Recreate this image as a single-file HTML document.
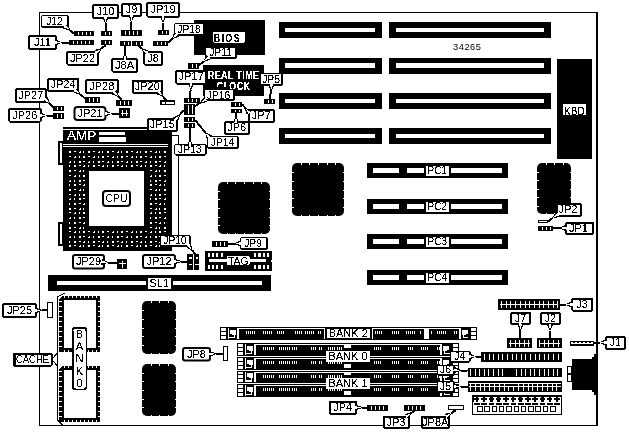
<!DOCTYPE html>
<html><head><meta charset="utf-8"><style>
html,body{margin:0;padding:0;background:#fff;}
svg{display:block;font-family:"Liberation Sans", sans-serif;will-change:transform;}
</style></head><body>
<svg width="629" height="433" viewBox="0 0 629 433" shape-rendering="crispEdges">
<defs><filter id="tx" x="-20%" y="-40%" width="140%" height="180%"><feComponentTransfer><feFuncA type="discrete" tableValues="0 0 0 0 0 0 0 0 0 1 1 1 1 1 1 1 1 1 1 1"/></feComponentTransfer></filter><filter id="tw" x="-20%" y="-40%" width="140%" height="180%"><feComponentTransfer><feFuncA type="discrete" tableValues="0 0 1 1 1"/></feComponentTransfer></filter></defs>
<g>
<rect x="0" y="0" width="629" height="433" fill="#fff"/>
<rect x="39" y="12" width="559" height="1" fill="#000"/>
<rect x="39" y="12" width="1" height="414" fill="#000"/>
<rect x="39" y="425" width="559" height="1" fill="#000"/>
<rect x="596" y="12" width="2" height="414" fill="#000"/>
<rect x="279" y="22" width="103" height="16" fill="#000"/>
<rect x="285" y="28" width="90" height="4" fill="#fff"/>
<rect x="389" y="22" width="162" height="16" fill="#000"/>
<rect x="396" y="28" width="148" height="4" fill="#fff"/>
<rect x="279" y="58" width="103" height="16" fill="#000"/>
<rect x="285" y="63" width="90" height="5" fill="#fff"/>
<rect x="389" y="58" width="162" height="16" fill="#000"/>
<rect x="396" y="63" width="148" height="5" fill="#fff"/>
<rect x="279" y="93" width="103" height="16" fill="#000"/>
<rect x="285" y="99" width="90" height="4" fill="#fff"/>
<rect x="389" y="93" width="162" height="16" fill="#000"/>
<rect x="396" y="99" width="148" height="4" fill="#fff"/>
<rect x="279" y="128" width="103" height="16" fill="#000"/>
<rect x="285" y="134" width="90" height="4" fill="#fff"/>
<rect x="389" y="128" width="162" height="16" fill="#000"/>
<rect x="396" y="134" width="148" height="4" fill="#fff"/>
<text x="467.3" y="49.8" font-size="9.3" fill="#000" text-anchor="middle" font-weight="normal"  letter-spacing="0.5">34265</text>
<rect x="557" y="59" width="35" height="100" fill="#000"/>
<rect x="563" y="104" width="23" height="11" fill="#fff"/>
<text x="574.5" y="114.6" font-size="11" fill="#000" text-anchor="middle" font-weight="normal" filter="url(#tx)" transform="translate(574.5 0) scale(0.92 1) translate(-574.5 0)">KBD</text>
<rect x="367" y="163" width="141" height="15" fill="#000"/>
<rect x="373" y="168" width="26" height="5" fill="#fff"/>
<rect x="407" y="168" width="17" height="5" fill="#fff"/>
<rect x="451" y="168" width="51" height="5" fill="#fff"/>
<rect x="425.5" y="165.5" width="23.5" height="10.5" rx="1" fill="#fff"/>
<text x="437.3" y="174" font-size="10" fill="#000" text-anchor="middle" font-weight="normal" filter="url(#tx)" >PC1</text>
<rect x="367" y="199" width="141" height="15" fill="#000"/>
<rect x="373" y="204" width="26" height="5" fill="#fff"/>
<rect x="407" y="204" width="17" height="5" fill="#fff"/>
<rect x="451" y="204" width="51" height="5" fill="#fff"/>
<rect x="425.5" y="201.5" width="23.5" height="10.5" rx="1" fill="#fff"/>
<text x="437.3" y="210" font-size="10" fill="#000" text-anchor="middle" font-weight="normal" filter="url(#tx)" >PC2</text>
<rect x="367" y="234" width="141" height="15" fill="#000"/>
<rect x="373" y="239" width="26" height="5" fill="#fff"/>
<rect x="407" y="239" width="17" height="5" fill="#fff"/>
<rect x="451" y="239" width="51" height="5" fill="#fff"/>
<rect x="425.5" y="236.5" width="23.5" height="10.5" rx="1" fill="#fff"/>
<text x="437.3" y="245" font-size="10" fill="#000" text-anchor="middle" font-weight="normal" filter="url(#tx)" >PC3</text>
<rect x="367" y="270" width="141" height="15" fill="#000"/>
<rect x="373" y="275" width="26" height="5" fill="#fff"/>
<rect x="407" y="275" width="17" height="5" fill="#fff"/>
<rect x="451" y="275" width="51" height="5" fill="#fff"/>
<rect x="425.5" y="272.5" width="23.5" height="10.5" rx="1" fill="#fff"/>
<text x="437.3" y="281" font-size="10" fill="#000" text-anchor="middle" font-weight="normal" filter="url(#tx)" >PC4</text>
<rect x="218" y="182" width="52" height="52" rx="5" fill="#000" shape-rendering="auto"/>
<rect x="226.667" y="182" width="1" height="1.5" fill="#fff"/>
<rect x="226.667" y="232.5" width="1" height="1.5" fill="#fff"/>
<rect x="235.333" y="182" width="1" height="1.5" fill="#fff"/>
<rect x="235.333" y="232.5" width="1" height="1.5" fill="#fff"/>
<rect x="244" y="182" width="1" height="1.5" fill="#fff"/>
<rect x="244" y="232.5" width="1" height="1.5" fill="#fff"/>
<rect x="252.667" y="182" width="1" height="1.5" fill="#fff"/>
<rect x="252.667" y="232.5" width="1" height="1.5" fill="#fff"/>
<rect x="261.333" y="182" width="1" height="1.5" fill="#fff"/>
<rect x="261.333" y="232.5" width="1" height="1.5" fill="#fff"/>
<rect x="218" y="190.667" width="1.5" height="1" fill="#fff"/>
<rect x="268.5" y="190.667" width="1.5" height="1" fill="#fff"/>
<rect x="218" y="199.333" width="1.5" height="1" fill="#fff"/>
<rect x="268.5" y="199.333" width="1.5" height="1" fill="#fff"/>
<rect x="218" y="208" width="1.5" height="1" fill="#fff"/>
<rect x="268.5" y="208" width="1.5" height="1" fill="#fff"/>
<rect x="218" y="216.667" width="1.5" height="1" fill="#fff"/>
<rect x="268.5" y="216.667" width="1.5" height="1" fill="#fff"/>
<rect x="218" y="225.333" width="1.5" height="1" fill="#fff"/>
<rect x="268.5" y="225.333" width="1.5" height="1" fill="#fff"/>
<rect x="292" y="163" width="52" height="53" rx="5" fill="#000" shape-rendering="auto"/>
<rect x="300.667" y="163" width="1" height="1.5" fill="#fff"/>
<rect x="300.667" y="214.5" width="1" height="1.5" fill="#fff"/>
<rect x="309.333" y="163" width="1" height="1.5" fill="#fff"/>
<rect x="309.333" y="214.5" width="1" height="1.5" fill="#fff"/>
<rect x="318" y="163" width="1" height="1.5" fill="#fff"/>
<rect x="318" y="214.5" width="1" height="1.5" fill="#fff"/>
<rect x="326.667" y="163" width="1" height="1.5" fill="#fff"/>
<rect x="326.667" y="214.5" width="1" height="1.5" fill="#fff"/>
<rect x="335.333" y="163" width="1" height="1.5" fill="#fff"/>
<rect x="335.333" y="214.5" width="1" height="1.5" fill="#fff"/>
<rect x="292" y="171.833" width="1.5" height="1" fill="#fff"/>
<rect x="342.5" y="171.833" width="1.5" height="1" fill="#fff"/>
<rect x="292" y="180.667" width="1.5" height="1" fill="#fff"/>
<rect x="342.5" y="180.667" width="1.5" height="1" fill="#fff"/>
<rect x="292" y="189.5" width="1.5" height="1" fill="#fff"/>
<rect x="342.5" y="189.5" width="1.5" height="1" fill="#fff"/>
<rect x="292" y="198.333" width="1.5" height="1" fill="#fff"/>
<rect x="342.5" y="198.333" width="1.5" height="1" fill="#fff"/>
<rect x="292" y="207.167" width="1.5" height="1" fill="#fff"/>
<rect x="342.5" y="207.167" width="1.5" height="1" fill="#fff"/>
<rect x="537" y="163" width="34" height="51" rx="5" fill="#000" shape-rendering="auto"/>
<rect x="545.5" y="163" width="1" height="1.5" fill="#fff"/>
<rect x="545.5" y="212.5" width="1" height="1.5" fill="#fff"/>
<rect x="554" y="163" width="1" height="1.5" fill="#fff"/>
<rect x="554" y="212.5" width="1" height="1.5" fill="#fff"/>
<rect x="562.5" y="163" width="1" height="1.5" fill="#fff"/>
<rect x="562.5" y="212.5" width="1" height="1.5" fill="#fff"/>
<rect x="537" y="171.5" width="1.5" height="1" fill="#fff"/>
<rect x="569.5" y="171.5" width="1.5" height="1" fill="#fff"/>
<rect x="537" y="180" width="1.5" height="1" fill="#fff"/>
<rect x="569.5" y="180" width="1.5" height="1" fill="#fff"/>
<rect x="537" y="188.5" width="1.5" height="1" fill="#fff"/>
<rect x="569.5" y="188.5" width="1.5" height="1" fill="#fff"/>
<rect x="537" y="197" width="1.5" height="1" fill="#fff"/>
<rect x="569.5" y="197" width="1.5" height="1" fill="#fff"/>
<rect x="537" y="205.5" width="1.5" height="1" fill="#fff"/>
<rect x="569.5" y="205.5" width="1.5" height="1" fill="#fff"/>
<rect x="142" y="301" width="34" height="53" rx="5" fill="#000" shape-rendering="auto"/>
<rect x="150.5" y="301" width="1" height="1.5" fill="#fff"/>
<rect x="150.5" y="352.5" width="1" height="1.5" fill="#fff"/>
<rect x="159" y="301" width="1" height="1.5" fill="#fff"/>
<rect x="159" y="352.5" width="1" height="1.5" fill="#fff"/>
<rect x="167.5" y="301" width="1" height="1.5" fill="#fff"/>
<rect x="167.5" y="352.5" width="1" height="1.5" fill="#fff"/>
<rect x="142" y="309.833" width="1.5" height="1" fill="#fff"/>
<rect x="174.5" y="309.833" width="1.5" height="1" fill="#fff"/>
<rect x="142" y="318.667" width="1.5" height="1" fill="#fff"/>
<rect x="174.5" y="318.667" width="1.5" height="1" fill="#fff"/>
<rect x="142" y="327.5" width="1.5" height="1" fill="#fff"/>
<rect x="174.5" y="327.5" width="1.5" height="1" fill="#fff"/>
<rect x="142" y="336.333" width="1.5" height="1" fill="#fff"/>
<rect x="174.5" y="336.333" width="1.5" height="1" fill="#fff"/>
<rect x="142" y="345.167" width="1.5" height="1" fill="#fff"/>
<rect x="174.5" y="345.167" width="1.5" height="1" fill="#fff"/>
<rect x="142" y="364" width="34" height="52" rx="5" fill="#000" shape-rendering="auto"/>
<rect x="150.5" y="364" width="1" height="1.5" fill="#fff"/>
<rect x="150.5" y="414.5" width="1" height="1.5" fill="#fff"/>
<rect x="159" y="364" width="1" height="1.5" fill="#fff"/>
<rect x="159" y="414.5" width="1" height="1.5" fill="#fff"/>
<rect x="167.5" y="364" width="1" height="1.5" fill="#fff"/>
<rect x="167.5" y="414.5" width="1" height="1.5" fill="#fff"/>
<rect x="142" y="372.667" width="1.5" height="1" fill="#fff"/>
<rect x="174.5" y="372.667" width="1.5" height="1" fill="#fff"/>
<rect x="142" y="381.333" width="1.5" height="1" fill="#fff"/>
<rect x="174.5" y="381.333" width="1.5" height="1" fill="#fff"/>
<rect x="142" y="390" width="1.5" height="1" fill="#fff"/>
<rect x="174.5" y="390" width="1.5" height="1" fill="#fff"/>
<rect x="142" y="398.667" width="1.5" height="1" fill="#fff"/>
<rect x="174.5" y="398.667" width="1.5" height="1" fill="#fff"/>
<rect x="142" y="407.333" width="1.5" height="1" fill="#fff"/>
<rect x="174.5" y="407.333" width="1.5" height="1" fill="#fff"/>
<rect x="194" y="20" width="71" height="35" fill="#000"/>
<rect x="213" y="31.5" width="32" height="11" rx="1" fill="#fff"/>
<text x="227.5" y="41.7" font-size="11" fill="#000" text-anchor="middle" font-weight="bold" filter="url(#tx)" letter-spacing="1.8" transform="translate(227.5 0) scale(0.8 1) translate(-227.5 0)">BIOS</text>
<rect x="203" y="65" width="61" height="31" fill="#000"/>
<text x="233.6" y="79" font-size="10.5" fill="#fff" text-anchor="middle" font-weight="bold" filter="url(#tw)" letter-spacing="0.4" transform="translate(233.6 0) scale(0.86 1) translate(-233.6 0)">REAL TIME</text>
<text x="233.5" y="90" font-size="10" fill="#fff" text-anchor="middle" font-weight="bold" filter="url(#tw)" letter-spacing="0.4" transform="translate(233.5 0) scale(0.9 1) translate(-233.5 0)">CLOCK</text>
<rect x="216" y="86.8" width="14" height="3.7" fill="#000"/>
<rect x="63" y="127" width="109" height="2" fill="#000"/>
<rect x="63" y="130" width="109" height="121" fill="#000"/>
<rect x="172" y="135" width="7" height="1" fill="#000"/>
<rect x="178" y="135" width="1" height="100" fill="#000"/>
<rect x="63" y="144" width="105" height="1" fill="#fff"/>
<rect x="63" y="146" width="105" height="1" fill="#fff"/>
<text x="67" y="140" font-size="13.5" fill="#fff" text-anchor="start" font-weight="normal" filter="url(#tw)" font-weight="normal">AMP</text>
<rect x="99" y="132" width="26" height="3" fill="#fff"/>
<rect x="99" y="136.5" width="27" height="5" fill="#fff"/>
<rect x="69" y="151" width="2" height="2" fill="#fff"/>
<rect x="74" y="151" width="2" height="1" fill="#fff"/>
<rect x="79" y="152" width="2" height="1" fill="#fff"/>
<rect x="80" y="151" width="1" height="1" fill="#fff"/>
<rect x="83" y="151" width="1" height="2" fill="#fff"/>
<rect x="88" y="151" width="2" height="2" fill="#fff"/>
<rect x="93" y="151" width="2" height="1" fill="#fff"/>
<rect x="98" y="152" width="2" height="1" fill="#fff"/>
<rect x="99" y="151" width="1" height="1" fill="#fff"/>
<rect x="102" y="151" width="1" height="2" fill="#fff"/>
<rect x="107" y="151" width="2" height="2" fill="#fff"/>
<rect x="112" y="151" width="2" height="1" fill="#fff"/>
<rect x="117" y="152" width="2" height="1" fill="#fff"/>
<rect x="118" y="151" width="1" height="1" fill="#fff"/>
<rect x="121" y="151" width="1" height="2" fill="#fff"/>
<rect x="126" y="151" width="2" height="2" fill="#fff"/>
<rect x="131" y="151" width="2" height="1" fill="#fff"/>
<rect x="136" y="152" width="2" height="1" fill="#fff"/>
<rect x="137" y="151" width="1" height="1" fill="#fff"/>
<rect x="140" y="151" width="1" height="2" fill="#fff"/>
<rect x="145" y="151" width="2" height="2" fill="#fff"/>
<rect x="150" y="151" width="2" height="1" fill="#fff"/>
<rect x="155" y="152" width="2" height="1" fill="#fff"/>
<rect x="156" y="151" width="1" height="1" fill="#fff"/>
<rect x="159" y="151" width="1" height="2" fill="#fff"/>
<rect x="164" y="151" width="2" height="2" fill="#fff"/>
<rect x="69" y="156" width="2" height="1" fill="#fff"/>
<rect x="74" y="157" width="2" height="1" fill="#fff"/>
<rect x="75" y="156" width="1" height="1" fill="#fff"/>
<rect x="79" y="156" width="1" height="2" fill="#fff"/>
<rect x="83" y="156" width="2" height="2" fill="#fff"/>
<rect x="88" y="156" width="2" height="1" fill="#fff"/>
<rect x="93" y="157" width="2" height="1" fill="#fff"/>
<rect x="94" y="156" width="1" height="1" fill="#fff"/>
<rect x="98" y="156" width="1" height="2" fill="#fff"/>
<rect x="102" y="156" width="2" height="2" fill="#fff"/>
<rect x="107" y="156" width="2" height="1" fill="#fff"/>
<rect x="112" y="157" width="2" height="1" fill="#fff"/>
<rect x="113" y="156" width="1" height="1" fill="#fff"/>
<rect x="117" y="156" width="1" height="2" fill="#fff"/>
<rect x="121" y="156" width="2" height="2" fill="#fff"/>
<rect x="126" y="156" width="2" height="1" fill="#fff"/>
<rect x="131" y="157" width="2" height="1" fill="#fff"/>
<rect x="132" y="156" width="1" height="1" fill="#fff"/>
<rect x="136" y="156" width="1" height="2" fill="#fff"/>
<rect x="140" y="156" width="2" height="2" fill="#fff"/>
<rect x="145" y="156" width="2" height="1" fill="#fff"/>
<rect x="150" y="157" width="2" height="1" fill="#fff"/>
<rect x="151" y="156" width="1" height="1" fill="#fff"/>
<rect x="155" y="156" width="1" height="2" fill="#fff"/>
<rect x="159" y="156" width="2" height="2" fill="#fff"/>
<rect x="164" y="156" width="2" height="1" fill="#fff"/>
<rect x="69" y="162" width="2" height="1" fill="#fff"/>
<rect x="70" y="161" width="1" height="1" fill="#fff"/>
<rect x="74" y="161" width="1" height="2" fill="#fff"/>
<rect x="79" y="161" width="2" height="2" fill="#fff"/>
<rect x="83" y="161" width="2" height="1" fill="#fff"/>
<rect x="88" y="162" width="2" height="1" fill="#fff"/>
<rect x="89" y="161" width="1" height="1" fill="#fff"/>
<rect x="93" y="161" width="1" height="2" fill="#fff"/>
<rect x="98" y="161" width="2" height="2" fill="#fff"/>
<rect x="102" y="161" width="2" height="1" fill="#fff"/>
<rect x="107" y="162" width="2" height="1" fill="#fff"/>
<rect x="108" y="161" width="1" height="1" fill="#fff"/>
<rect x="112" y="161" width="1" height="2" fill="#fff"/>
<rect x="117" y="161" width="2" height="2" fill="#fff"/>
<rect x="121" y="161" width="2" height="1" fill="#fff"/>
<rect x="126" y="162" width="2" height="1" fill="#fff"/>
<rect x="127" y="161" width="1" height="1" fill="#fff"/>
<rect x="131" y="161" width="1" height="2" fill="#fff"/>
<rect x="136" y="161" width="2" height="2" fill="#fff"/>
<rect x="140" y="161" width="2" height="1" fill="#fff"/>
<rect x="145" y="162" width="2" height="1" fill="#fff"/>
<rect x="146" y="161" width="1" height="1" fill="#fff"/>
<rect x="150" y="161" width="1" height="2" fill="#fff"/>
<rect x="155" y="161" width="2" height="2" fill="#fff"/>
<rect x="159" y="161" width="2" height="1" fill="#fff"/>
<rect x="164" y="162" width="2" height="1" fill="#fff"/>
<rect x="165" y="161" width="1" height="1" fill="#fff"/>
<rect x="69" y="165" width="1" height="2" fill="#fff"/>
<rect x="74" y="165" width="2" height="2" fill="#fff"/>
<rect x="79" y="165" width="2" height="1" fill="#fff"/>
<rect x="83" y="166" width="2" height="1" fill="#fff"/>
<rect x="84" y="165" width="1" height="1" fill="#fff"/>
<rect x="88" y="165" width="1" height="2" fill="#fff"/>
<rect x="93" y="165" width="2" height="2" fill="#fff"/>
<rect x="98" y="165" width="2" height="1" fill="#fff"/>
<rect x="102" y="166" width="2" height="1" fill="#fff"/>
<rect x="103" y="165" width="1" height="1" fill="#fff"/>
<rect x="107" y="165" width="1" height="2" fill="#fff"/>
<rect x="112" y="165" width="2" height="2" fill="#fff"/>
<rect x="117" y="165" width="2" height="1" fill="#fff"/>
<rect x="121" y="166" width="2" height="1" fill="#fff"/>
<rect x="122" y="165" width="1" height="1" fill="#fff"/>
<rect x="126" y="165" width="1" height="2" fill="#fff"/>
<rect x="131" y="165" width="2" height="2" fill="#fff"/>
<rect x="136" y="165" width="2" height="1" fill="#fff"/>
<rect x="140" y="166" width="2" height="1" fill="#fff"/>
<rect x="141" y="165" width="1" height="1" fill="#fff"/>
<rect x="145" y="165" width="1" height="2" fill="#fff"/>
<rect x="150" y="165" width="2" height="2" fill="#fff"/>
<rect x="155" y="165" width="2" height="1" fill="#fff"/>
<rect x="159" y="166" width="2" height="1" fill="#fff"/>
<rect x="160" y="165" width="1" height="1" fill="#fff"/>
<rect x="164" y="165" width="1" height="2" fill="#fff"/>
<rect x="69" y="170" width="2" height="2" fill="#fff"/>
<rect x="74" y="170" width="2" height="1" fill="#fff"/>
<rect x="79" y="171" width="2" height="1" fill="#fff"/>
<rect x="80" y="170" width="1" height="1" fill="#fff"/>
<rect x="83" y="170" width="1" height="2" fill="#fff"/>
<rect x="150" y="170" width="2" height="1" fill="#fff"/>
<rect x="155" y="171" width="2" height="1" fill="#fff"/>
<rect x="156" y="170" width="1" height="1" fill="#fff"/>
<rect x="159" y="170" width="1" height="2" fill="#fff"/>
<rect x="164" y="170" width="2" height="2" fill="#fff"/>
<rect x="69" y="175" width="2" height="1" fill="#fff"/>
<rect x="74" y="176" width="2" height="1" fill="#fff"/>
<rect x="75" y="175" width="1" height="1" fill="#fff"/>
<rect x="79" y="175" width="1" height="2" fill="#fff"/>
<rect x="83" y="175" width="2" height="2" fill="#fff"/>
<rect x="150" y="176" width="2" height="1" fill="#fff"/>
<rect x="151" y="175" width="1" height="1" fill="#fff"/>
<rect x="155" y="175" width="1" height="2" fill="#fff"/>
<rect x="159" y="175" width="2" height="2" fill="#fff"/>
<rect x="164" y="175" width="2" height="1" fill="#fff"/>
<rect x="69" y="181" width="2" height="1" fill="#fff"/>
<rect x="70" y="180" width="1" height="1" fill="#fff"/>
<rect x="74" y="180" width="1" height="2" fill="#fff"/>
<rect x="79" y="180" width="2" height="2" fill="#fff"/>
<rect x="83" y="180" width="2" height="1" fill="#fff"/>
<rect x="150" y="180" width="1" height="2" fill="#fff"/>
<rect x="155" y="180" width="2" height="2" fill="#fff"/>
<rect x="159" y="180" width="2" height="1" fill="#fff"/>
<rect x="164" y="181" width="2" height="1" fill="#fff"/>
<rect x="165" y="180" width="1" height="1" fill="#fff"/>
<rect x="69" y="184" width="1" height="2" fill="#fff"/>
<rect x="74" y="184" width="2" height="2" fill="#fff"/>
<rect x="79" y="184" width="2" height="1" fill="#fff"/>
<rect x="83" y="185" width="2" height="1" fill="#fff"/>
<rect x="84" y="184" width="1" height="1" fill="#fff"/>
<rect x="150" y="184" width="2" height="2" fill="#fff"/>
<rect x="155" y="184" width="2" height="1" fill="#fff"/>
<rect x="159" y="185" width="2" height="1" fill="#fff"/>
<rect x="160" y="184" width="1" height="1" fill="#fff"/>
<rect x="164" y="184" width="1" height="2" fill="#fff"/>
<rect x="69" y="189" width="2" height="2" fill="#fff"/>
<rect x="74" y="189" width="2" height="1" fill="#fff"/>
<rect x="79" y="190" width="2" height="1" fill="#fff"/>
<rect x="80" y="189" width="1" height="1" fill="#fff"/>
<rect x="83" y="189" width="1" height="2" fill="#fff"/>
<rect x="150" y="189" width="2" height="1" fill="#fff"/>
<rect x="155" y="190" width="2" height="1" fill="#fff"/>
<rect x="156" y="189" width="1" height="1" fill="#fff"/>
<rect x="159" y="189" width="1" height="2" fill="#fff"/>
<rect x="164" y="189" width="2" height="2" fill="#fff"/>
<rect x="69" y="194" width="2" height="1" fill="#fff"/>
<rect x="74" y="195" width="2" height="1" fill="#fff"/>
<rect x="75" y="194" width="1" height="1" fill="#fff"/>
<rect x="79" y="194" width="1" height="2" fill="#fff"/>
<rect x="83" y="194" width="2" height="2" fill="#fff"/>
<rect x="150" y="195" width="2" height="1" fill="#fff"/>
<rect x="151" y="194" width="1" height="1" fill="#fff"/>
<rect x="155" y="194" width="1" height="2" fill="#fff"/>
<rect x="159" y="194" width="2" height="2" fill="#fff"/>
<rect x="164" y="194" width="2" height="1" fill="#fff"/>
<rect x="69" y="199" width="2" height="1" fill="#fff"/>
<rect x="70" y="198" width="1" height="1" fill="#fff"/>
<rect x="74" y="198" width="1" height="2" fill="#fff"/>
<rect x="79" y="198" width="2" height="2" fill="#fff"/>
<rect x="83" y="198" width="2" height="1" fill="#fff"/>
<rect x="150" y="198" width="1" height="2" fill="#fff"/>
<rect x="155" y="198" width="2" height="2" fill="#fff"/>
<rect x="159" y="198" width="2" height="1" fill="#fff"/>
<rect x="164" y="199" width="2" height="1" fill="#fff"/>
<rect x="165" y="198" width="1" height="1" fill="#fff"/>
<rect x="69" y="203" width="1" height="2" fill="#fff"/>
<rect x="74" y="203" width="2" height="2" fill="#fff"/>
<rect x="79" y="203" width="2" height="1" fill="#fff"/>
<rect x="83" y="204" width="2" height="1" fill="#fff"/>
<rect x="84" y="203" width="1" height="1" fill="#fff"/>
<rect x="150" y="203" width="2" height="2" fill="#fff"/>
<rect x="155" y="203" width="2" height="1" fill="#fff"/>
<rect x="159" y="204" width="2" height="1" fill="#fff"/>
<rect x="160" y="203" width="1" height="1" fill="#fff"/>
<rect x="164" y="203" width="1" height="2" fill="#fff"/>
<rect x="69" y="208" width="2" height="2" fill="#fff"/>
<rect x="74" y="208" width="2" height="1" fill="#fff"/>
<rect x="79" y="209" width="2" height="1" fill="#fff"/>
<rect x="80" y="208" width="1" height="1" fill="#fff"/>
<rect x="83" y="208" width="1" height="2" fill="#fff"/>
<rect x="150" y="208" width="2" height="1" fill="#fff"/>
<rect x="155" y="209" width="2" height="1" fill="#fff"/>
<rect x="156" y="208" width="1" height="1" fill="#fff"/>
<rect x="159" y="208" width="1" height="2" fill="#fff"/>
<rect x="164" y="208" width="2" height="2" fill="#fff"/>
<rect x="69" y="212" width="2" height="1" fill="#fff"/>
<rect x="74" y="213" width="2" height="1" fill="#fff"/>
<rect x="75" y="212" width="1" height="1" fill="#fff"/>
<rect x="79" y="212" width="1" height="2" fill="#fff"/>
<rect x="83" y="212" width="2" height="2" fill="#fff"/>
<rect x="150" y="213" width="2" height="1" fill="#fff"/>
<rect x="151" y="212" width="1" height="1" fill="#fff"/>
<rect x="155" y="212" width="1" height="2" fill="#fff"/>
<rect x="159" y="212" width="2" height="2" fill="#fff"/>
<rect x="164" y="212" width="2" height="1" fill="#fff"/>
<rect x="69" y="218" width="2" height="1" fill="#fff"/>
<rect x="70" y="217" width="1" height="1" fill="#fff"/>
<rect x="74" y="217" width="1" height="2" fill="#fff"/>
<rect x="79" y="217" width="2" height="2" fill="#fff"/>
<rect x="83" y="217" width="2" height="1" fill="#fff"/>
<rect x="150" y="217" width="1" height="2" fill="#fff"/>
<rect x="155" y="217" width="2" height="2" fill="#fff"/>
<rect x="159" y="217" width="2" height="1" fill="#fff"/>
<rect x="164" y="218" width="2" height="1" fill="#fff"/>
<rect x="165" y="217" width="1" height="1" fill="#fff"/>
<rect x="69" y="222" width="1" height="2" fill="#fff"/>
<rect x="74" y="222" width="2" height="2" fill="#fff"/>
<rect x="79" y="222" width="2" height="1" fill="#fff"/>
<rect x="83" y="223" width="2" height="1" fill="#fff"/>
<rect x="84" y="222" width="1" height="1" fill="#fff"/>
<rect x="150" y="222" width="2" height="2" fill="#fff"/>
<rect x="155" y="222" width="2" height="1" fill="#fff"/>
<rect x="159" y="223" width="2" height="1" fill="#fff"/>
<rect x="160" y="222" width="1" height="1" fill="#fff"/>
<rect x="164" y="222" width="1" height="2" fill="#fff"/>
<rect x="69" y="227" width="2" height="2" fill="#fff"/>
<rect x="74" y="227" width="2" height="1" fill="#fff"/>
<rect x="79" y="228" width="2" height="1" fill="#fff"/>
<rect x="80" y="227" width="1" height="1" fill="#fff"/>
<rect x="83" y="227" width="1" height="2" fill="#fff"/>
<rect x="150" y="227" width="2" height="1" fill="#fff"/>
<rect x="155" y="228" width="2" height="1" fill="#fff"/>
<rect x="156" y="227" width="1" height="1" fill="#fff"/>
<rect x="159" y="227" width="1" height="2" fill="#fff"/>
<rect x="164" y="227" width="2" height="2" fill="#fff"/>
<rect x="69" y="231" width="2" height="1" fill="#fff"/>
<rect x="74" y="232" width="2" height="1" fill="#fff"/>
<rect x="75" y="231" width="1" height="1" fill="#fff"/>
<rect x="79" y="231" width="1" height="2" fill="#fff"/>
<rect x="83" y="231" width="2" height="2" fill="#fff"/>
<rect x="88" y="231" width="2" height="1" fill="#fff"/>
<rect x="93" y="232" width="2" height="1" fill="#fff"/>
<rect x="94" y="231" width="1" height="1" fill="#fff"/>
<rect x="98" y="231" width="1" height="2" fill="#fff"/>
<rect x="102" y="231" width="2" height="2" fill="#fff"/>
<rect x="107" y="231" width="2" height="1" fill="#fff"/>
<rect x="112" y="232" width="2" height="1" fill="#fff"/>
<rect x="113" y="231" width="1" height="1" fill="#fff"/>
<rect x="117" y="231" width="1" height="2" fill="#fff"/>
<rect x="121" y="231" width="2" height="2" fill="#fff"/>
<rect x="126" y="231" width="2" height="1" fill="#fff"/>
<rect x="131" y="232" width="2" height="1" fill="#fff"/>
<rect x="132" y="231" width="1" height="1" fill="#fff"/>
<rect x="136" y="231" width="1" height="2" fill="#fff"/>
<rect x="140" y="231" width="2" height="2" fill="#fff"/>
<rect x="145" y="231" width="2" height="1" fill="#fff"/>
<rect x="150" y="232" width="2" height="1" fill="#fff"/>
<rect x="151" y="231" width="1" height="1" fill="#fff"/>
<rect x="155" y="231" width="1" height="2" fill="#fff"/>
<rect x="159" y="231" width="2" height="2" fill="#fff"/>
<rect x="164" y="231" width="2" height="1" fill="#fff"/>
<rect x="69" y="237" width="2" height="1" fill="#fff"/>
<rect x="70" y="236" width="1" height="1" fill="#fff"/>
<rect x="74" y="236" width="1" height="2" fill="#fff"/>
<rect x="79" y="236" width="2" height="2" fill="#fff"/>
<rect x="83" y="236" width="2" height="1" fill="#fff"/>
<rect x="88" y="237" width="2" height="1" fill="#fff"/>
<rect x="89" y="236" width="1" height="1" fill="#fff"/>
<rect x="93" y="236" width="1" height="2" fill="#fff"/>
<rect x="98" y="236" width="2" height="2" fill="#fff"/>
<rect x="102" y="236" width="2" height="1" fill="#fff"/>
<rect x="107" y="237" width="2" height="1" fill="#fff"/>
<rect x="108" y="236" width="1" height="1" fill="#fff"/>
<rect x="112" y="236" width="1" height="2" fill="#fff"/>
<rect x="117" y="236" width="2" height="2" fill="#fff"/>
<rect x="121" y="236" width="2" height="1" fill="#fff"/>
<rect x="126" y="237" width="2" height="1" fill="#fff"/>
<rect x="127" y="236" width="1" height="1" fill="#fff"/>
<rect x="131" y="236" width="1" height="2" fill="#fff"/>
<rect x="136" y="236" width="2" height="2" fill="#fff"/>
<rect x="140" y="236" width="2" height="1" fill="#fff"/>
<rect x="145" y="237" width="2" height="1" fill="#fff"/>
<rect x="146" y="236" width="1" height="1" fill="#fff"/>
<rect x="150" y="236" width="1" height="2" fill="#fff"/>
<rect x="155" y="236" width="2" height="2" fill="#fff"/>
<rect x="159" y="236" width="2" height="1" fill="#fff"/>
<rect x="164" y="237" width="2" height="1" fill="#fff"/>
<rect x="165" y="236" width="1" height="1" fill="#fff"/>
<rect x="69" y="241" width="1" height="2" fill="#fff"/>
<rect x="74" y="241" width="2" height="2" fill="#fff"/>
<rect x="79" y="241" width="2" height="1" fill="#fff"/>
<rect x="83" y="242" width="2" height="1" fill="#fff"/>
<rect x="84" y="241" width="1" height="1" fill="#fff"/>
<rect x="88" y="241" width="1" height="2" fill="#fff"/>
<rect x="93" y="241" width="2" height="2" fill="#fff"/>
<rect x="98" y="241" width="2" height="1" fill="#fff"/>
<rect x="102" y="242" width="2" height="1" fill="#fff"/>
<rect x="103" y="241" width="1" height="1" fill="#fff"/>
<rect x="107" y="241" width="1" height="2" fill="#fff"/>
<rect x="112" y="241" width="2" height="2" fill="#fff"/>
<rect x="117" y="241" width="2" height="1" fill="#fff"/>
<rect x="121" y="242" width="2" height="1" fill="#fff"/>
<rect x="122" y="241" width="1" height="1" fill="#fff"/>
<rect x="126" y="241" width="1" height="2" fill="#fff"/>
<rect x="131" y="241" width="2" height="2" fill="#fff"/>
<rect x="136" y="241" width="2" height="1" fill="#fff"/>
<rect x="140" y="242" width="2" height="1" fill="#fff"/>
<rect x="141" y="241" width="1" height="1" fill="#fff"/>
<rect x="145" y="241" width="1" height="2" fill="#fff"/>
<rect x="150" y="241" width="2" height="2" fill="#fff"/>
<rect x="155" y="241" width="2" height="1" fill="#fff"/>
<rect x="159" y="242" width="2" height="1" fill="#fff"/>
<rect x="160" y="241" width="1" height="1" fill="#fff"/>
<rect x="164" y="241" width="1" height="2" fill="#fff"/>
<rect x="69" y="245" width="2" height="2" fill="#fff"/>
<rect x="74" y="245" width="2" height="1" fill="#fff"/>
<rect x="79" y="246" width="2" height="1" fill="#fff"/>
<rect x="80" y="245" width="1" height="1" fill="#fff"/>
<rect x="83" y="245" width="1" height="2" fill="#fff"/>
<rect x="88" y="245" width="2" height="2" fill="#fff"/>
<rect x="93" y="245" width="2" height="1" fill="#fff"/>
<rect x="98" y="246" width="2" height="1" fill="#fff"/>
<rect x="99" y="245" width="1" height="1" fill="#fff"/>
<rect x="102" y="245" width="1" height="2" fill="#fff"/>
<rect x="107" y="245" width="2" height="2" fill="#fff"/>
<rect x="112" y="245" width="2" height="1" fill="#fff"/>
<rect x="117" y="246" width="2" height="1" fill="#fff"/>
<rect x="118" y="245" width="1" height="1" fill="#fff"/>
<rect x="121" y="245" width="1" height="2" fill="#fff"/>
<rect x="126" y="245" width="2" height="2" fill="#fff"/>
<rect x="131" y="245" width="2" height="1" fill="#fff"/>
<rect x="136" y="246" width="2" height="1" fill="#fff"/>
<rect x="137" y="245" width="1" height="1" fill="#fff"/>
<rect x="140" y="245" width="1" height="2" fill="#fff"/>
<rect x="145" y="245" width="2" height="2" fill="#fff"/>
<rect x="150" y="245" width="2" height="1" fill="#fff"/>
<rect x="155" y="246" width="2" height="1" fill="#fff"/>
<rect x="156" y="245" width="1" height="1" fill="#fff"/>
<rect x="159" y="245" width="1" height="2" fill="#fff"/>
<rect x="164" y="245" width="2" height="2" fill="#fff"/>
<rect x="89" y="171" width="55" height="55" fill="#fff"/>
<rect x="58" y="141" width="5" height="24" rx="1.5" fill="#000"/>
<rect x="60" y="143" width="1.5" height="20" fill="#fff"/>
<rect x="58" y="222" width="5" height="24" rx="1.5" fill="#000"/>
<rect x="59.5" y="224" width="2" height="20" fill="#fff"/>
<rect x="102" y="190" width="29" height="17" rx="4" fill="#000" shape-rendering="auto"/>
<rect x="104" y="192" width="25" height="13" rx="2" fill="#fff" shape-rendering="auto"/>
<text x="116.5" y="201.623" font-size="10.5" fill="#000" text-anchor="middle" font-weight="normal" filter="url(#tx)" >CPU</text>
<rect x="48" y="275" width="223" height="16" fill="#000"/>
<rect x="57" y="281" width="89" height="4" fill="#fff"/>
<rect x="173" y="281" width="89" height="4" fill="#fff"/>
<rect x="147.5" y="277.5" width="23.5" height="11.2" rx="1" fill="#fff"/>
<text x="159.3" y="287" font-size="11" fill="#000" text-anchor="middle" font-weight="normal" filter="url(#tx)" >SL1</text>
<rect x="205" y="251" width="66.5" height="20" fill="#000"/>
<rect x="207.5" y="253.2" width="2.4" height="4" fill="#fff"/>
<rect x="207.5" y="265" width="2.4" height="4" fill="#fff"/>
<rect x="211.5" y="253.2" width="2.4" height="4" fill="#fff"/>
<rect x="211.5" y="265" width="2.4" height="4" fill="#fff"/>
<rect x="216" y="253.2" width="2.4" height="4" fill="#fff"/>
<rect x="216" y="265" width="2.4" height="4" fill="#fff"/>
<rect x="220.5" y="253.2" width="2.4" height="4" fill="#fff"/>
<rect x="220.5" y="265" width="2.4" height="4" fill="#fff"/>
<rect x="254" y="253.2" width="2.4" height="4" fill="#fff"/>
<rect x="254" y="265" width="2.4" height="4" fill="#fff"/>
<rect x="258.3" y="253.2" width="2.4" height="4" fill="#fff"/>
<rect x="258.3" y="265" width="2.4" height="4" fill="#fff"/>
<rect x="262.5" y="253.2" width="2.4" height="4" fill="#fff"/>
<rect x="262.5" y="265" width="2.4" height="4" fill="#fff"/>
<rect x="267" y="253.2" width="2.4" height="4" fill="#fff"/>
<rect x="267" y="265" width="2.4" height="4" fill="#fff"/>
<rect x="209" y="259" width="57" height="3" fill="#fff"/>
<rect x="270.5" y="259.5" width="1" height="2.5" fill="#fff"/>
<rect x="227" y="255.8" width="22.5" height="9.5" rx="1.5" fill="#fff"/>
<text x="238.3" y="264.8" font-size="11" fill="#000" text-anchor="middle" font-weight="normal" filter="url(#tx)" transform="translate(238.3 0) scale(0.95 1) translate(-238.3 0)">TAG</text>
<rect x="59" y="296" width="41" height="56" fill="#000"/>
<rect x="64" y="299.5" width="31.5" height="48.5" fill="#fff"/>
<rect x="59" y="301" width="3" height="1" fill="#fff"/>
<rect x="98" y="301" width="2" height="1" fill="#fff"/>
<rect x="59" y="306" width="3" height="1" fill="#fff"/>
<rect x="98" y="306" width="2" height="1" fill="#fff"/>
<rect x="59" y="311" width="3" height="1" fill="#fff"/>
<rect x="98" y="311" width="2" height="1" fill="#fff"/>
<rect x="59" y="316" width="3" height="1" fill="#fff"/>
<rect x="98" y="316" width="2" height="1" fill="#fff"/>
<rect x="59" y="321" width="3" height="1" fill="#fff"/>
<rect x="98" y="321" width="2" height="1" fill="#fff"/>
<rect x="59" y="326" width="3" height="1" fill="#fff"/>
<rect x="98" y="326" width="2" height="1" fill="#fff"/>
<rect x="59" y="331" width="3" height="1" fill="#fff"/>
<rect x="98" y="331" width="2" height="1" fill="#fff"/>
<rect x="59" y="336" width="3" height="1" fill="#fff"/>
<rect x="98" y="336" width="2" height="1" fill="#fff"/>
<rect x="59" y="341" width="3" height="1" fill="#fff"/>
<rect x="98" y="341" width="2" height="1" fill="#fff"/>
<rect x="59" y="346" width="3" height="1" fill="#fff"/>
<rect x="98" y="346" width="2" height="1" fill="#fff"/>
<rect x="64" y="296" width="1" height="1.5" fill="#fff"/>
<rect x="64" y="350" width="1" height="2" fill="#fff"/>
<rect x="68" y="296" width="1" height="1.5" fill="#fff"/>
<rect x="68" y="350" width="1" height="2" fill="#fff"/>
<rect x="72" y="296" width="1" height="1.5" fill="#fff"/>
<rect x="72" y="350" width="1" height="2" fill="#fff"/>
<rect x="76" y="296" width="1" height="1.5" fill="#fff"/>
<rect x="76" y="350" width="1" height="2" fill="#fff"/>
<rect x="80" y="296" width="1" height="1.5" fill="#fff"/>
<rect x="80" y="350" width="1" height="2" fill="#fff"/>
<rect x="84" y="296" width="1" height="1.5" fill="#fff"/>
<rect x="84" y="350" width="1" height="2" fill="#fff"/>
<rect x="88" y="296" width="1" height="1.5" fill="#fff"/>
<rect x="88" y="350" width="1" height="2" fill="#fff"/>
<rect x="92" y="296" width="1" height="1.5" fill="#fff"/>
<rect x="92" y="350" width="1" height="2" fill="#fff"/>
<rect x="96" y="296" width="1" height="1.5" fill="#fff"/>
<rect x="96" y="350" width="1" height="2" fill="#fff"/>
<polygon points="58.5,295.5 63,295.5 58.5,300" fill="#fff"/>
<rect x="59" y="366" width="41" height="56" fill="#000"/>
<rect x="64" y="369.5" width="31.5" height="48.5" fill="#fff"/>
<rect x="59" y="371" width="3" height="1" fill="#fff"/>
<rect x="98" y="371" width="2" height="1" fill="#fff"/>
<rect x="59" y="376" width="3" height="1" fill="#fff"/>
<rect x="98" y="376" width="2" height="1" fill="#fff"/>
<rect x="59" y="381" width="3" height="1" fill="#fff"/>
<rect x="98" y="381" width="2" height="1" fill="#fff"/>
<rect x="59" y="386" width="3" height="1" fill="#fff"/>
<rect x="98" y="386" width="2" height="1" fill="#fff"/>
<rect x="59" y="391" width="3" height="1" fill="#fff"/>
<rect x="98" y="391" width="2" height="1" fill="#fff"/>
<rect x="59" y="396" width="3" height="1" fill="#fff"/>
<rect x="98" y="396" width="2" height="1" fill="#fff"/>
<rect x="59" y="401" width="3" height="1" fill="#fff"/>
<rect x="98" y="401" width="2" height="1" fill="#fff"/>
<rect x="59" y="406" width="3" height="1" fill="#fff"/>
<rect x="98" y="406" width="2" height="1" fill="#fff"/>
<rect x="59" y="411" width="3" height="1" fill="#fff"/>
<rect x="98" y="411" width="2" height="1" fill="#fff"/>
<rect x="59" y="416" width="3" height="1" fill="#fff"/>
<rect x="98" y="416" width="2" height="1" fill="#fff"/>
<rect x="64" y="366" width="1" height="1.5" fill="#fff"/>
<rect x="64" y="420" width="1" height="2" fill="#fff"/>
<rect x="68" y="366" width="1" height="1.5" fill="#fff"/>
<rect x="68" y="420" width="1" height="2" fill="#fff"/>
<rect x="72" y="366" width="1" height="1.5" fill="#fff"/>
<rect x="72" y="420" width="1" height="2" fill="#fff"/>
<rect x="76" y="366" width="1" height="1.5" fill="#fff"/>
<rect x="76" y="420" width="1" height="2" fill="#fff"/>
<rect x="80" y="366" width="1" height="1.5" fill="#fff"/>
<rect x="80" y="420" width="1" height="2" fill="#fff"/>
<rect x="84" y="366" width="1" height="1.5" fill="#fff"/>
<rect x="84" y="420" width="1" height="2" fill="#fff"/>
<rect x="88" y="366" width="1" height="1.5" fill="#fff"/>
<rect x="88" y="420" width="1" height="2" fill="#fff"/>
<rect x="92" y="366" width="1" height="1.5" fill="#fff"/>
<rect x="92" y="420" width="1" height="2" fill="#fff"/>
<rect x="96" y="366" width="1" height="1.5" fill="#fff"/>
<rect x="96" y="420" width="1" height="2" fill="#fff"/>
<polygon points="58.5,365.5 63,365.5 58.5,370" fill="#fff"/>
<polyline points="65,293 57.5,297 57.5,420 62.5,425" fill="none" stroke="#000" stroke-width="1" stroke-linejoin="miter"/>
<rect x="72" y="327" width="15" height="63" rx="3" fill="#000"/>
<rect x="73.5" y="328.5" width="12" height="60" rx="2" fill="#fff"/>
<text x="79.5" y="338" font-size="11" fill="#000" text-anchor="middle" font-weight="normal" filter="url(#tx)" >B</text>
<text x="79.5" y="350.2" font-size="11" fill="#000" text-anchor="middle" font-weight="normal" filter="url(#tx)" >A</text>
<text x="79.5" y="362.4" font-size="11" fill="#000" text-anchor="middle" font-weight="normal" filter="url(#tx)" >N</text>
<text x="79.5" y="374.6" font-size="11" fill="#000" text-anchor="middle" font-weight="normal" filter="url(#tx)" >K</text>
<text x="79.5" y="386.8" font-size="11" fill="#000" text-anchor="middle" font-weight="normal" filter="url(#tx)" >0</text>
<rect x="220" y="327" width="257" height="13" fill="#000"/>
<rect x="221" y="328" width="255" height="11" fill="#fff"/>
<rect x="220" y="327" width="8" height="13" fill="#000"/>
<rect x="221" y="328" width="5" height="3" fill="#fff"/>
<rect x="221" y="332" width="5" height="3" fill="#fff"/>
<rect x="221" y="336" width="5" height="3" fill="#fff"/>
<rect x="229" y="328" width="10" height="11" fill="#000"/>
<rect x="230" y="329.7" width="6.4" height="5" fill="#fff"/>
<rect x="230" y="333.6" width="2" height="1.1" fill="#000"/>
<rect x="229" y="336.6" width="4.7" height="1.4" fill="#fff"/>
<rect x="233.7" y="334.7" width="1.5" height="3.6" fill="#fff"/>
<rect x="236.8" y="328" width="2.2" height="11" fill="#fff"/>
<rect x="239" y="329" width="220" height="10" fill="#000"/>
<rect x="424" y="328" width="5" height="11" fill="#fff"/>
<rect x="246" y="331" width="1" height="3" fill="#fff"/>
<rect x="248" y="331" width="1" height="3" fill="#fff"/>
<rect x="250" y="331" width="1" height="3" fill="#fff"/>
<rect x="252" y="331" width="1" height="3" fill="#fff"/>
<rect x="254" y="331" width="1" height="3" fill="#fff"/>
<rect x="263" y="331" width="1" height="3" fill="#fff"/>
<rect x="265" y="331" width="1" height="3" fill="#fff"/>
<rect x="267" y="331" width="1" height="3" fill="#fff"/>
<rect x="269" y="331" width="1" height="3" fill="#fff"/>
<rect x="271" y="331" width="1" height="3" fill="#fff"/>
<rect x="277" y="331" width="1" height="3" fill="#fff"/>
<rect x="279" y="331" width="1" height="3" fill="#fff"/>
<rect x="281" y="331" width="1" height="3" fill="#fff"/>
<rect x="283" y="331" width="1" height="3" fill="#fff"/>
<rect x="295" y="331" width="1" height="3" fill="#fff"/>
<rect x="297" y="331" width="1" height="3" fill="#fff"/>
<rect x="299" y="331" width="1" height="3" fill="#fff"/>
<rect x="301" y="331" width="1" height="3" fill="#fff"/>
<rect x="305" y="331" width="1" height="3" fill="#fff"/>
<rect x="307" y="331" width="1" height="3" fill="#fff"/>
<rect x="309" y="331" width="1" height="3" fill="#fff"/>
<rect x="311" y="331" width="1" height="3" fill="#fff"/>
<rect x="313" y="331" width="1" height="3" fill="#fff"/>
<rect x="318" y="331" width="1" height="3" fill="#fff"/>
<rect x="320" y="331" width="1" height="3" fill="#fff"/>
<rect x="375" y="331" width="1" height="3" fill="#fff"/>
<rect x="377" y="331" width="1" height="3" fill="#fff"/>
<rect x="379" y="331" width="1" height="3" fill="#fff"/>
<rect x="381" y="331" width="1" height="3" fill="#fff"/>
<rect x="392" y="331" width="1" height="3" fill="#fff"/>
<rect x="394" y="331" width="1" height="3" fill="#fff"/>
<rect x="396" y="331" width="1" height="3" fill="#fff"/>
<rect x="398" y="331" width="1" height="3" fill="#fff"/>
<rect x="406" y="331" width="1" height="3" fill="#fff"/>
<rect x="408" y="331" width="1" height="3" fill="#fff"/>
<rect x="410" y="331" width="1" height="3" fill="#fff"/>
<rect x="412" y="331" width="1" height="3" fill="#fff"/>
<rect x="414" y="331" width="1" height="3" fill="#fff"/>
<rect x="420" y="331" width="1" height="3" fill="#fff"/>
<rect x="431" y="331" width="1" height="3" fill="#fff"/>
<rect x="437" y="331" width="1" height="3" fill="#fff"/>
<rect x="439" y="331" width="1" height="3" fill="#fff"/>
<rect x="441" y="331" width="1" height="3" fill="#fff"/>
<rect x="443" y="331" width="1" height="3" fill="#fff"/>
<rect x="445" y="331" width="1" height="3" fill="#fff"/>
<rect x="454" y="331" width="1" height="3" fill="#fff"/>
<rect x="456" y="331" width="1" height="3" fill="#fff"/>
<rect x="459" y="328" width="10" height="11" fill="#000"/>
<rect x="461.6" y="329.7" width="6.4" height="5" fill="#fff"/>
<rect x="466" y="333.6" width="2" height="1.1" fill="#000"/>
<rect x="464.3" y="336.6" width="4.7" height="1.4" fill="#fff"/>
<rect x="462.8" y="334.7" width="1.5" height="3.6" fill="#fff"/>
<rect x="459" y="328" width="2.2" height="11" fill="#fff"/>
<rect x="468" y="327" width="9" height="13" fill="#000"/>
<rect x="471" y="328" width="5" height="3" fill="#fff"/>
<rect x="471" y="332" width="5" height="3" fill="#fff"/>
<rect x="471" y="336" width="5" height="3" fill="#fff"/>
<rect x="237" y="343" width="222" height="12.5" fill="#000"/>
<rect x="238" y="344" width="220" height="10.5" fill="#fff"/>
<rect x="237" y="343" width="8" height="12.5" fill="#000"/>
<rect x="238" y="344" width="5" height="2.83333" fill="#fff"/>
<rect x="238" y="347.833" width="5" height="2.83333" fill="#fff"/>
<rect x="238" y="351.667" width="5" height="2.83333" fill="#fff"/>
<rect x="246" y="344" width="10" height="10.5" fill="#000"/>
<rect x="247" y="345.7" width="6.4" height="5" fill="#fff"/>
<rect x="247" y="349.6" width="2" height="1.1" fill="#000"/>
<rect x="246" y="352.6" width="4.7" height="1.4" fill="#fff"/>
<rect x="250.7" y="350.7" width="1.5" height="3.6" fill="#fff"/>
<rect x="253.8" y="344" width="2.2" height="10.5" fill="#fff"/>
<rect x="256" y="345" width="184" height="9.5" fill="#000"/>
<rect x="263" y="347" width="1" height="3" fill="#fff"/>
<rect x="265" y="347" width="1" height="3" fill="#fff"/>
<rect x="267" y="347" width="1" height="3" fill="#fff"/>
<rect x="269" y="347" width="1" height="3" fill="#fff"/>
<rect x="271" y="347" width="1" height="3" fill="#fff"/>
<rect x="273" y="347" width="1" height="3" fill="#fff"/>
<rect x="279" y="347" width="1" height="3" fill="#fff"/>
<rect x="281" y="347" width="1" height="3" fill="#fff"/>
<rect x="283" y="347" width="1" height="3" fill="#fff"/>
<rect x="285" y="347" width="1" height="3" fill="#fff"/>
<rect x="287" y="347" width="1" height="3" fill="#fff"/>
<rect x="289" y="347" width="1" height="3" fill="#fff"/>
<rect x="292" y="347" width="1" height="3" fill="#fff"/>
<rect x="294" y="347" width="1" height="3" fill="#fff"/>
<rect x="296" y="347" width="1" height="3" fill="#fff"/>
<rect x="311" y="347" width="1" height="3" fill="#fff"/>
<rect x="313" y="347" width="1" height="3" fill="#fff"/>
<rect x="315" y="347" width="1" height="3" fill="#fff"/>
<rect x="319" y="347" width="1" height="3" fill="#fff"/>
<rect x="321" y="347" width="1" height="3" fill="#fff"/>
<rect x="328" y="347" width="1" height="3" fill="#fff"/>
<rect x="330" y="347" width="1" height="3" fill="#fff"/>
<rect x="332" y="347" width="1" height="3" fill="#fff"/>
<rect x="334" y="347" width="1" height="3" fill="#fff"/>
<rect x="337" y="347" width="1" height="3" fill="#fff"/>
<rect x="339" y="347" width="1" height="3" fill="#fff"/>
<rect x="341" y="347" width="1" height="3" fill="#fff"/>
<rect x="374" y="347" width="1" height="3" fill="#fff"/>
<rect x="376" y="347" width="1" height="3" fill="#fff"/>
<rect x="378" y="347" width="1" height="3" fill="#fff"/>
<rect x="380" y="347" width="1" height="3" fill="#fff"/>
<rect x="392" y="347" width="1" height="3" fill="#fff"/>
<rect x="394" y="347" width="1" height="3" fill="#fff"/>
<rect x="396" y="347" width="1" height="3" fill="#fff"/>
<rect x="398" y="347" width="1" height="3" fill="#fff"/>
<rect x="408" y="347" width="1" height="3" fill="#fff"/>
<rect x="410" y="347" width="1" height="3" fill="#fff"/>
<rect x="412" y="347" width="1" height="3" fill="#fff"/>
<rect x="421" y="347" width="1" height="3" fill="#fff"/>
<rect x="423" y="347" width="1" height="3" fill="#fff"/>
<rect x="425" y="347" width="1" height="3" fill="#fff"/>
<rect x="427" y="347" width="1" height="3" fill="#fff"/>
<rect x="437" y="347" width="1" height="3" fill="#fff"/>
<rect x="439" y="347" width="1" height="3" fill="#fff"/>
<rect x="440" y="344" width="10" height="10.5" fill="#000"/>
<rect x="442.6" y="345.7" width="6.4" height="5" fill="#fff"/>
<rect x="447" y="349.6" width="2" height="1.1" fill="#000"/>
<rect x="445.3" y="352.6" width="4.7" height="1.4" fill="#fff"/>
<rect x="443.8" y="350.7" width="1.5" height="3.6" fill="#fff"/>
<rect x="440" y="344" width="2.2" height="10.5" fill="#fff"/>
<rect x="450" y="343" width="9" height="12.5" fill="#000"/>
<rect x="453" y="344" width="5" height="2.83333" fill="#fff"/>
<rect x="453" y="347.833" width="5" height="2.83333" fill="#fff"/>
<rect x="453" y="351.667" width="5" height="2.83333" fill="#fff"/>
<rect x="237" y="357" width="222" height="12.5" fill="#000"/>
<rect x="238" y="358" width="220" height="10.5" fill="#fff"/>
<rect x="237" y="357" width="8" height="12.5" fill="#000"/>
<rect x="238" y="358" width="5" height="2.83333" fill="#fff"/>
<rect x="238" y="361.833" width="5" height="2.83333" fill="#fff"/>
<rect x="238" y="365.667" width="5" height="2.83333" fill="#fff"/>
<rect x="246" y="358" width="10" height="10.5" fill="#000"/>
<rect x="247" y="359.7" width="6.4" height="5" fill="#fff"/>
<rect x="247" y="363.6" width="2" height="1.1" fill="#000"/>
<rect x="246" y="366.6" width="4.7" height="1.4" fill="#fff"/>
<rect x="250.7" y="364.7" width="1.5" height="3.6" fill="#fff"/>
<rect x="253.8" y="358" width="2.2" height="10.5" fill="#fff"/>
<rect x="256" y="359" width="184" height="9.5" fill="#000"/>
<rect x="263" y="361" width="1" height="3" fill="#fff"/>
<rect x="265" y="361" width="1" height="3" fill="#fff"/>
<rect x="267" y="361" width="1" height="3" fill="#fff"/>
<rect x="269" y="361" width="1" height="3" fill="#fff"/>
<rect x="271" y="361" width="1" height="3" fill="#fff"/>
<rect x="273" y="361" width="1" height="3" fill="#fff"/>
<rect x="279" y="361" width="1" height="3" fill="#fff"/>
<rect x="281" y="361" width="1" height="3" fill="#fff"/>
<rect x="283" y="361" width="1" height="3" fill="#fff"/>
<rect x="285" y="361" width="1" height="3" fill="#fff"/>
<rect x="287" y="361" width="1" height="3" fill="#fff"/>
<rect x="289" y="361" width="1" height="3" fill="#fff"/>
<rect x="292" y="361" width="1" height="3" fill="#fff"/>
<rect x="294" y="361" width="1" height="3" fill="#fff"/>
<rect x="296" y="361" width="1" height="3" fill="#fff"/>
<rect x="311" y="361" width="1" height="3" fill="#fff"/>
<rect x="313" y="361" width="1" height="3" fill="#fff"/>
<rect x="315" y="361" width="1" height="3" fill="#fff"/>
<rect x="319" y="361" width="1" height="3" fill="#fff"/>
<rect x="321" y="361" width="1" height="3" fill="#fff"/>
<rect x="328" y="361" width="1" height="3" fill="#fff"/>
<rect x="330" y="361" width="1" height="3" fill="#fff"/>
<rect x="332" y="361" width="1" height="3" fill="#fff"/>
<rect x="334" y="361" width="1" height="3" fill="#fff"/>
<rect x="337" y="361" width="1" height="3" fill="#fff"/>
<rect x="339" y="361" width="1" height="3" fill="#fff"/>
<rect x="341" y="361" width="1" height="3" fill="#fff"/>
<rect x="374" y="361" width="1" height="3" fill="#fff"/>
<rect x="376" y="361" width="1" height="3" fill="#fff"/>
<rect x="378" y="361" width="1" height="3" fill="#fff"/>
<rect x="380" y="361" width="1" height="3" fill="#fff"/>
<rect x="392" y="361" width="1" height="3" fill="#fff"/>
<rect x="394" y="361" width="1" height="3" fill="#fff"/>
<rect x="396" y="361" width="1" height="3" fill="#fff"/>
<rect x="398" y="361" width="1" height="3" fill="#fff"/>
<rect x="408" y="361" width="1" height="3" fill="#fff"/>
<rect x="410" y="361" width="1" height="3" fill="#fff"/>
<rect x="412" y="361" width="1" height="3" fill="#fff"/>
<rect x="421" y="361" width="1" height="3" fill="#fff"/>
<rect x="423" y="361" width="1" height="3" fill="#fff"/>
<rect x="425" y="361" width="1" height="3" fill="#fff"/>
<rect x="427" y="361" width="1" height="3" fill="#fff"/>
<rect x="437" y="361" width="1" height="3" fill="#fff"/>
<rect x="439" y="361" width="1" height="3" fill="#fff"/>
<rect x="440" y="358" width="10" height="10.5" fill="#000"/>
<rect x="442.6" y="359.7" width="6.4" height="5" fill="#fff"/>
<rect x="447" y="363.6" width="2" height="1.1" fill="#000"/>
<rect x="445.3" y="366.6" width="4.7" height="1.4" fill="#fff"/>
<rect x="443.8" y="364.7" width="1.5" height="3.6" fill="#fff"/>
<rect x="440" y="358" width="2.2" height="10.5" fill="#fff"/>
<rect x="450" y="357" width="9" height="12.5" fill="#000"/>
<rect x="453" y="358" width="5" height="2.83333" fill="#fff"/>
<rect x="453" y="361.833" width="5" height="2.83333" fill="#fff"/>
<rect x="453" y="365.667" width="5" height="2.83333" fill="#fff"/>
<rect x="237" y="370.5" width="222" height="12.5" fill="#000"/>
<rect x="238" y="371.5" width="220" height="10.5" fill="#fff"/>
<rect x="237" y="370.5" width="8" height="12.5" fill="#000"/>
<rect x="238" y="371.5" width="5" height="2.83333" fill="#fff"/>
<rect x="238" y="375.333" width="5" height="2.83333" fill="#fff"/>
<rect x="238" y="379.167" width="5" height="2.83333" fill="#fff"/>
<rect x="246" y="371.5" width="10" height="10.5" fill="#000"/>
<rect x="247" y="373.2" width="6.4" height="5" fill="#fff"/>
<rect x="247" y="377.1" width="2" height="1.1" fill="#000"/>
<rect x="246" y="380.1" width="4.7" height="1.4" fill="#fff"/>
<rect x="250.7" y="378.2" width="1.5" height="3.6" fill="#fff"/>
<rect x="253.8" y="371.5" width="2.2" height="10.5" fill="#fff"/>
<rect x="256" y="372.5" width="184" height="9.5" fill="#000"/>
<rect x="263" y="374.5" width="1" height="3" fill="#fff"/>
<rect x="265" y="374.5" width="1" height="3" fill="#fff"/>
<rect x="267" y="374.5" width="1" height="3" fill="#fff"/>
<rect x="269" y="374.5" width="1" height="3" fill="#fff"/>
<rect x="271" y="374.5" width="1" height="3" fill="#fff"/>
<rect x="273" y="374.5" width="1" height="3" fill="#fff"/>
<rect x="279" y="374.5" width="1" height="3" fill="#fff"/>
<rect x="281" y="374.5" width="1" height="3" fill="#fff"/>
<rect x="283" y="374.5" width="1" height="3" fill="#fff"/>
<rect x="285" y="374.5" width="1" height="3" fill="#fff"/>
<rect x="287" y="374.5" width="1" height="3" fill="#fff"/>
<rect x="289" y="374.5" width="1" height="3" fill="#fff"/>
<rect x="292" y="374.5" width="1" height="3" fill="#fff"/>
<rect x="294" y="374.5" width="1" height="3" fill="#fff"/>
<rect x="296" y="374.5" width="1" height="3" fill="#fff"/>
<rect x="311" y="374.5" width="1" height="3" fill="#fff"/>
<rect x="313" y="374.5" width="1" height="3" fill="#fff"/>
<rect x="315" y="374.5" width="1" height="3" fill="#fff"/>
<rect x="319" y="374.5" width="1" height="3" fill="#fff"/>
<rect x="321" y="374.5" width="1" height="3" fill="#fff"/>
<rect x="328" y="374.5" width="1" height="3" fill="#fff"/>
<rect x="330" y="374.5" width="1" height="3" fill="#fff"/>
<rect x="332" y="374.5" width="1" height="3" fill="#fff"/>
<rect x="334" y="374.5" width="1" height="3" fill="#fff"/>
<rect x="337" y="374.5" width="1" height="3" fill="#fff"/>
<rect x="339" y="374.5" width="1" height="3" fill="#fff"/>
<rect x="341" y="374.5" width="1" height="3" fill="#fff"/>
<rect x="374" y="374.5" width="1" height="3" fill="#fff"/>
<rect x="376" y="374.5" width="1" height="3" fill="#fff"/>
<rect x="378" y="374.5" width="1" height="3" fill="#fff"/>
<rect x="380" y="374.5" width="1" height="3" fill="#fff"/>
<rect x="392" y="374.5" width="1" height="3" fill="#fff"/>
<rect x="394" y="374.5" width="1" height="3" fill="#fff"/>
<rect x="396" y="374.5" width="1" height="3" fill="#fff"/>
<rect x="398" y="374.5" width="1" height="3" fill="#fff"/>
<rect x="408" y="374.5" width="1" height="3" fill="#fff"/>
<rect x="410" y="374.5" width="1" height="3" fill="#fff"/>
<rect x="412" y="374.5" width="1" height="3" fill="#fff"/>
<rect x="421" y="374.5" width="1" height="3" fill="#fff"/>
<rect x="423" y="374.5" width="1" height="3" fill="#fff"/>
<rect x="425" y="374.5" width="1" height="3" fill="#fff"/>
<rect x="427" y="374.5" width="1" height="3" fill="#fff"/>
<rect x="437" y="374.5" width="1" height="3" fill="#fff"/>
<rect x="439" y="374.5" width="1" height="3" fill="#fff"/>
<rect x="440" y="371.5" width="10" height="10.5" fill="#000"/>
<rect x="442.6" y="373.2" width="6.4" height="5" fill="#fff"/>
<rect x="447" y="377.1" width="2" height="1.1" fill="#000"/>
<rect x="445.3" y="380.1" width="4.7" height="1.4" fill="#fff"/>
<rect x="443.8" y="378.2" width="1.5" height="3.6" fill="#fff"/>
<rect x="440" y="371.5" width="2.2" height="10.5" fill="#fff"/>
<rect x="450" y="370.5" width="9" height="12.5" fill="#000"/>
<rect x="453" y="371.5" width="5" height="2.83333" fill="#fff"/>
<rect x="453" y="375.333" width="5" height="2.83333" fill="#fff"/>
<rect x="453" y="379.167" width="5" height="2.83333" fill="#fff"/>
<rect x="237" y="384" width="222" height="12.5" fill="#000"/>
<rect x="238" y="385" width="220" height="10.5" fill="#fff"/>
<rect x="237" y="384" width="8" height="12.5" fill="#000"/>
<rect x="238" y="385" width="5" height="2.83333" fill="#fff"/>
<rect x="238" y="388.833" width="5" height="2.83333" fill="#fff"/>
<rect x="238" y="392.667" width="5" height="2.83333" fill="#fff"/>
<rect x="246" y="385" width="10" height="10.5" fill="#000"/>
<rect x="247" y="386.7" width="6.4" height="5" fill="#fff"/>
<rect x="247" y="390.6" width="2" height="1.1" fill="#000"/>
<rect x="246" y="393.6" width="4.7" height="1.4" fill="#fff"/>
<rect x="250.7" y="391.7" width="1.5" height="3.6" fill="#fff"/>
<rect x="253.8" y="385" width="2.2" height="10.5" fill="#fff"/>
<rect x="256" y="386" width="184" height="9.5" fill="#000"/>
<rect x="263" y="388" width="1" height="3" fill="#fff"/>
<rect x="265" y="388" width="1" height="3" fill="#fff"/>
<rect x="267" y="388" width="1" height="3" fill="#fff"/>
<rect x="269" y="388" width="1" height="3" fill="#fff"/>
<rect x="271" y="388" width="1" height="3" fill="#fff"/>
<rect x="273" y="388" width="1" height="3" fill="#fff"/>
<rect x="279" y="388" width="1" height="3" fill="#fff"/>
<rect x="281" y="388" width="1" height="3" fill="#fff"/>
<rect x="283" y="388" width="1" height="3" fill="#fff"/>
<rect x="285" y="388" width="1" height="3" fill="#fff"/>
<rect x="287" y="388" width="1" height="3" fill="#fff"/>
<rect x="289" y="388" width="1" height="3" fill="#fff"/>
<rect x="292" y="388" width="1" height="3" fill="#fff"/>
<rect x="294" y="388" width="1" height="3" fill="#fff"/>
<rect x="296" y="388" width="1" height="3" fill="#fff"/>
<rect x="311" y="388" width="1" height="3" fill="#fff"/>
<rect x="313" y="388" width="1" height="3" fill="#fff"/>
<rect x="315" y="388" width="1" height="3" fill="#fff"/>
<rect x="319" y="388" width="1" height="3" fill="#fff"/>
<rect x="321" y="388" width="1" height="3" fill="#fff"/>
<rect x="328" y="388" width="1" height="3" fill="#fff"/>
<rect x="330" y="388" width="1" height="3" fill="#fff"/>
<rect x="332" y="388" width="1" height="3" fill="#fff"/>
<rect x="334" y="388" width="1" height="3" fill="#fff"/>
<rect x="337" y="388" width="1" height="3" fill="#fff"/>
<rect x="339" y="388" width="1" height="3" fill="#fff"/>
<rect x="341" y="388" width="1" height="3" fill="#fff"/>
<rect x="374" y="388" width="1" height="3" fill="#fff"/>
<rect x="376" y="388" width="1" height="3" fill="#fff"/>
<rect x="378" y="388" width="1" height="3" fill="#fff"/>
<rect x="380" y="388" width="1" height="3" fill="#fff"/>
<rect x="392" y="388" width="1" height="3" fill="#fff"/>
<rect x="394" y="388" width="1" height="3" fill="#fff"/>
<rect x="396" y="388" width="1" height="3" fill="#fff"/>
<rect x="398" y="388" width="1" height="3" fill="#fff"/>
<rect x="408" y="388" width="1" height="3" fill="#fff"/>
<rect x="410" y="388" width="1" height="3" fill="#fff"/>
<rect x="412" y="388" width="1" height="3" fill="#fff"/>
<rect x="421" y="388" width="1" height="3" fill="#fff"/>
<rect x="423" y="388" width="1" height="3" fill="#fff"/>
<rect x="425" y="388" width="1" height="3" fill="#fff"/>
<rect x="427" y="388" width="1" height="3" fill="#fff"/>
<rect x="437" y="388" width="1" height="3" fill="#fff"/>
<rect x="439" y="388" width="1" height="3" fill="#fff"/>
<rect x="440" y="385" width="10" height="10.5" fill="#000"/>
<rect x="442.6" y="386.7" width="6.4" height="5" fill="#fff"/>
<rect x="447" y="390.6" width="2" height="1.1" fill="#000"/>
<rect x="445.3" y="393.6" width="4.7" height="1.4" fill="#fff"/>
<rect x="443.8" y="391.7" width="1.5" height="3.6" fill="#fff"/>
<rect x="440" y="385" width="2.2" height="10.5" fill="#fff"/>
<rect x="450" y="384" width="9" height="12.5" fill="#000"/>
<rect x="453" y="385" width="5" height="2.83333" fill="#fff"/>
<rect x="453" y="388.833" width="5" height="2.83333" fill="#fff"/>
<rect x="453" y="392.667" width="5" height="2.83333" fill="#fff"/>
<rect x="344" y="344.5" width="7" height="3.5" fill="#fff"/>
<rect x="344" y="364" width="7" height="4" fill="#fff"/>
<rect x="344" y="371.5" width="7" height="3.5" fill="#fff"/>
<rect x="344" y="391" width="7" height="4" fill="#fff"/>
<rect x="323.5" y="328" width="49.5" height="11" fill="#fff"/>
<polygon points="326.5,326.5 370,326.5 371.5,328 371.5,338.5 370,340 326.5,340 325,338.5 325,328" fill="#000"/>
<rect x="327" y="328.5" width="42.5" height="9.5" fill="#fff"/>
<text x="348.25" y="336.545" font-size="11" fill="#000" text-anchor="middle" font-weight="normal" filter="url(#tx)" >BANK 2</text>
<rect x="326" y="351.3" width="44.2" height="10.4" fill="#fff"/>
<text x="348" y="360" font-size="11" fill="#000" text-anchor="middle" font-weight="normal" filter="url(#tx)" >BANK 0</text>
<rect x="326" y="378.4" width="44.2" height="10.4" fill="#fff"/>
<text x="348" y="387.2" font-size="11" fill="#000" text-anchor="middle" font-weight="normal" filter="url(#tx)" >BANK 1</text>
<rect x="498" y="299" width="62" height="11" fill="#000"/>
<rect x="500" y="304" width="58" height="1" fill="#fff"/>
<rect x="501" y="301" width="1" height="7" fill="#fff"/>
<rect x="505.7" y="301" width="1" height="7" fill="#fff"/>
<rect x="510.4" y="301" width="1" height="7" fill="#fff"/>
<rect x="515.1" y="301" width="1" height="7" fill="#fff"/>
<rect x="519.8" y="301" width="1" height="7" fill="#fff"/>
<rect x="524.5" y="301" width="1" height="7" fill="#fff"/>
<rect x="529.2" y="301" width="1" height="7" fill="#fff"/>
<rect x="533.9" y="301" width="1" height="7" fill="#fff"/>
<rect x="538.6" y="301" width="1" height="7" fill="#fff"/>
<rect x="543.3" y="301" width="1" height="7" fill="#fff"/>
<rect x="548" y="301" width="1" height="7" fill="#fff"/>
<rect x="552.7" y="301" width="1" height="7" fill="#fff"/>
<rect x="557.4" y="301" width="1" height="7" fill="#fff"/>
<rect x="507" y="338" width="25" height="10" fill="#000"/>
<rect x="509" y="343" width="21" height="1" fill="#fff"/>
<rect x="510" y="339.5" width="1" height="7" fill="#fff"/>
<rect x="514.5" y="339.5" width="1" height="7" fill="#fff"/>
<rect x="519" y="339.5" width="1" height="7" fill="#fff"/>
<rect x="523.5" y="339.5" width="1" height="7" fill="#fff"/>
<rect x="528" y="339.5" width="1" height="7" fill="#fff"/>
<rect x="537" y="338" width="25" height="10" fill="#000"/>
<rect x="539" y="343" width="21" height="1" fill="#fff"/>
<rect x="539" y="339.5" width="1" height="7" fill="#fff"/>
<rect x="543.7" y="339.5" width="1" height="7" fill="#fff"/>
<rect x="548.4" y="339.5" width="1" height="7" fill="#fff"/>
<rect x="553.1" y="339.5" width="1" height="7" fill="#fff"/>
<rect x="557.8" y="339.5" width="1" height="7" fill="#fff"/>
<rect x="570" y="340.5" width="24" height="5" fill="#000"/>
<rect x="571" y="342" width="22" height="2" fill="#fff"/>
<rect x="573" y="341" width="1.5" height="1.5" fill="#000"/>
<rect x="577" y="341" width="1.5" height="1.5" fill="#000"/>
<rect x="581" y="341" width="1.5" height="1.5" fill="#000"/>
<rect x="585" y="341" width="1.5" height="1.5" fill="#000"/>
<rect x="589" y="341" width="1.5" height="1.5" fill="#000"/>
<rect x="481" y="352" width="81" height="9.5" fill="#000"/>
<rect x="484" y="353.5" width="1" height="6.5" fill="#fff"/>
<rect x="488.6" y="353.5" width="1" height="6.5" fill="#fff"/>
<rect x="493.2" y="353.5" width="1" height="6.5" fill="#fff"/>
<rect x="497.8" y="353.5" width="1" height="6.5" fill="#fff"/>
<rect x="502.4" y="353.5" width="1" height="6.5" fill="#fff"/>
<rect x="507" y="353.5" width="1" height="6.5" fill="#fff"/>
<rect x="511.6" y="353.5" width="1" height="6.5" fill="#fff"/>
<rect x="516.2" y="353.5" width="1" height="6.5" fill="#fff"/>
<rect x="520.8" y="353.5" width="1" height="6.5" fill="#fff"/>
<rect x="525.4" y="353.5" width="1" height="6.5" fill="#fff"/>
<rect x="530" y="353.5" width="1" height="6.5" fill="#fff"/>
<rect x="534.6" y="353.5" width="1" height="6.5" fill="#fff"/>
<rect x="539.2" y="353.5" width="1" height="6.5" fill="#fff"/>
<rect x="543.8" y="353.5" width="1" height="6.5" fill="#fff"/>
<rect x="548.4" y="353.5" width="1" height="6.5" fill="#fff"/>
<rect x="553" y="353.5" width="1" height="6.5" fill="#fff"/>
<rect x="557.6" y="353.5" width="1" height="6.5" fill="#fff"/>
<rect x="467.5" y="367.5" width="94.5" height="9.5" fill="#000"/>
<rect x="470" y="369" width="1" height="6.5" fill="#fff"/>
<rect x="474.6" y="369" width="1" height="6.5" fill="#fff"/>
<rect x="479.2" y="369" width="1" height="6.5" fill="#fff"/>
<rect x="483.8" y="369" width="1" height="6.5" fill="#fff"/>
<rect x="488.4" y="369" width="1" height="6.5" fill="#fff"/>
<rect x="493" y="369" width="1" height="6.5" fill="#fff"/>
<rect x="497.6" y="369" width="1" height="6.5" fill="#fff"/>
<rect x="502.2" y="369" width="1" height="6.5" fill="#fff"/>
<rect x="516" y="369" width="1" height="6.5" fill="#fff"/>
<rect x="520.6" y="369" width="1" height="6.5" fill="#fff"/>
<rect x="525.2" y="369" width="1" height="6.5" fill="#fff"/>
<rect x="529.8" y="369" width="1" height="6.5" fill="#fff"/>
<rect x="534.4" y="369" width="1" height="6.5" fill="#fff"/>
<rect x="539" y="369" width="1" height="6.5" fill="#fff"/>
<rect x="543.6" y="369" width="1" height="6.5" fill="#fff"/>
<rect x="548.2" y="369" width="1" height="6.5" fill="#fff"/>
<rect x="552.8" y="369" width="1" height="6.5" fill="#fff"/>
<rect x="557.4" y="369" width="1" height="6.5" fill="#fff"/>
<rect x="467.5" y="381.3" width="94.5" height="10.2" fill="#000"/>
<rect x="469" y="382.5" width="92" height="1" fill="#fff"/>
<rect x="469" y="386" width="92" height="1" fill="#fff"/>
<rect x="470" y="382.5" width="1" height="8" fill="#fff"/>
<rect x="474.8" y="382.5" width="1" height="8" fill="#fff"/>
<rect x="479.6" y="382.5" width="1" height="8" fill="#fff"/>
<rect x="484.4" y="382.5" width="1" height="8" fill="#fff"/>
<rect x="489.2" y="382.5" width="1" height="8" fill="#fff"/>
<rect x="494" y="382.5" width="1" height="8" fill="#fff"/>
<rect x="498.8" y="382.5" width="1" height="8" fill="#fff"/>
<rect x="503.6" y="382.5" width="1" height="8" fill="#fff"/>
<rect x="508.4" y="386" width="1" height="4.5" fill="#fff"/>
<rect x="513.2" y="386" width="1" height="4.5" fill="#fff"/>
<rect x="518" y="382.5" width="1" height="8" fill="#fff"/>
<rect x="522.8" y="382.5" width="1" height="8" fill="#fff"/>
<rect x="527.6" y="382.5" width="1" height="8" fill="#fff"/>
<rect x="532.4" y="382.5" width="1" height="8" fill="#fff"/>
<rect x="537.2" y="382.5" width="1" height="8" fill="#fff"/>
<rect x="542" y="382.5" width="1" height="8" fill="#fff"/>
<rect x="546.8" y="382.5" width="1" height="8" fill="#fff"/>
<rect x="551.6" y="382.5" width="1" height="8" fill="#fff"/>
<rect x="556.4" y="382.5" width="1" height="8" fill="#fff"/>
<rect x="472" y="395.3" width="90" height="19.7" fill="#000"/>
<rect x="473.2" y="396.5" width="87.8" height="17.5" fill="#fff"/>
<rect x="472" y="396.5" width="2.3" height="5.5" fill="#000"/>
<rect x="474" y="398" width="5.4" height="1.8" fill="#000"/>
<rect x="475.5" y="397" width="2.4" height="4.6" fill="#000"/>
<rect x="474" y="403" width="5.7" height="2" fill="#000"/>
<rect x="477" y="406" width="5.5" height="6" fill="#000"/>
<rect x="478" y="407" width="3.5" height="4" fill="#fff"/>
<rect x="481.3" y="398" width="5.4" height="1.8" fill="#000"/>
<rect x="482.8" y="397" width="2.4" height="4.6" fill="#000"/>
<rect x="481.3" y="403" width="5.7" height="2" fill="#000"/>
<rect x="484.3" y="406" width="5.5" height="6" fill="#000"/>
<rect x="485.3" y="407" width="3.5" height="4" fill="#fff"/>
<rect x="488.6" y="398" width="5.4" height="1.8" fill="#000"/>
<rect x="490.1" y="397" width="2.4" height="4.6" fill="#000"/>
<rect x="488.6" y="403" width="5.7" height="2" fill="#000"/>
<rect x="491.6" y="406" width="5.5" height="6" fill="#000"/>
<rect x="492.6" y="407" width="3.5" height="4" fill="#fff"/>
<rect x="495.9" y="398" width="5.4" height="1.8" fill="#000"/>
<rect x="497.4" y="397" width="2.4" height="4.6" fill="#000"/>
<rect x="495.9" y="403" width="5.7" height="2" fill="#000"/>
<rect x="498.9" y="406" width="5.5" height="6" fill="#000"/>
<rect x="499.9" y="407" width="3.5" height="4" fill="#fff"/>
<rect x="503.2" y="398" width="5.4" height="1.8" fill="#000"/>
<rect x="504.7" y="397" width="2.4" height="4.6" fill="#000"/>
<rect x="503.2" y="403" width="5.7" height="2" fill="#000"/>
<rect x="506.2" y="406" width="5.5" height="6" fill="#000"/>
<rect x="507.2" y="407" width="3.5" height="4" fill="#fff"/>
<rect x="510.5" y="398" width="5.4" height="1.8" fill="#000"/>
<rect x="512" y="397" width="2.4" height="4.6" fill="#000"/>
<rect x="510.5" y="403" width="5.7" height="2" fill="#000"/>
<rect x="513.5" y="406" width="5.5" height="6" fill="#000"/>
<rect x="514.5" y="407" width="3.5" height="4" fill="#fff"/>
<rect x="517.8" y="398" width="5.4" height="1.8" fill="#000"/>
<rect x="519.3" y="397" width="2.4" height="4.6" fill="#000"/>
<rect x="517.8" y="403" width="5.7" height="2" fill="#000"/>
<rect x="520.8" y="406" width="5.5" height="6" fill="#000"/>
<rect x="521.8" y="407" width="3.5" height="4" fill="#fff"/>
<rect x="525.1" y="398" width="5.4" height="1.8" fill="#000"/>
<rect x="526.6" y="397" width="2.4" height="4.6" fill="#000"/>
<rect x="525.1" y="403" width="5.7" height="2" fill="#000"/>
<rect x="528.1" y="406" width="5.5" height="6" fill="#000"/>
<rect x="529.1" y="407" width="3.5" height="4" fill="#fff"/>
<rect x="532.4" y="398" width="5.4" height="1.8" fill="#000"/>
<rect x="533.9" y="397" width="2.4" height="4.6" fill="#000"/>
<rect x="532.4" y="403" width="5.7" height="2" fill="#000"/>
<rect x="535.4" y="406" width="5.5" height="6" fill="#000"/>
<rect x="536.4" y="407" width="3.5" height="4" fill="#fff"/>
<rect x="539.7" y="398" width="5.4" height="1.8" fill="#000"/>
<rect x="541.2" y="397" width="2.4" height="4.6" fill="#000"/>
<rect x="539.7" y="403" width="5.7" height="2" fill="#000"/>
<rect x="542.7" y="406" width="5.5" height="6" fill="#000"/>
<rect x="543.7" y="407" width="3.5" height="4" fill="#fff"/>
<rect x="547" y="398" width="5.4" height="1.8" fill="#000"/>
<rect x="548.5" y="397" width="2.4" height="4.6" fill="#000"/>
<rect x="547" y="403" width="5.7" height="2" fill="#000"/>
<rect x="550" y="406" width="5.5" height="6" fill="#000"/>
<rect x="551" y="407" width="3.5" height="4" fill="#fff"/>
<rect x="554.3" y="398" width="5.4" height="1.8" fill="#000"/>
<rect x="555.8" y="397" width="2.4" height="4.6" fill="#000"/>
<rect x="554.3" y="403" width="5.7" height="2" fill="#000"/>
<polygon points="572,359 592,359 592,356.5 594,356.5 594,354 596,354 596,395 594,395 594,392 592,392 592,389.5 572,389.5" fill="#000"/>
<rect x="567" y="366" width="5" height="16" fill="#000"/>
<rect x="568" y="367" width="3" height="6" fill="#fff"/>
<rect x="568" y="375" width="3" height="6" fill="#fff"/>
<rect x="74" y="31" width="20" height="5" fill="#000"/>
<rect x="78" y="32" width="1" height="3" fill="#fff"/>
<rect x="82" y="32" width="1" height="3" fill="#fff"/>
<rect x="86" y="32" width="1" height="3" fill="#fff"/>
<rect x="90" y="32" width="1" height="3" fill="#fff"/>
<rect x="69" y="40" width="25" height="5" fill="#000"/>
<rect x="73" y="41" width="1" height="3" fill="#fff"/>
<rect x="77" y="41" width="1" height="3" fill="#fff"/>
<rect x="81" y="41" width="1" height="3" fill="#fff"/>
<rect x="85" y="41" width="1" height="3" fill="#fff"/>
<rect x="89" y="41" width="1" height="3" fill="#fff"/>
<rect x="101" y="31" width="11" height="5" fill="#000"/>
<rect x="105" y="32" width="1" height="3" fill="#fff"/>
<rect x="109" y="32" width="1" height="3" fill="#fff"/>
<rect x="101" y="40" width="11" height="5" fill="#000"/>
<rect x="105" y="41" width="1" height="3" fill="#fff"/>
<rect x="109" y="41" width="1" height="3" fill="#fff"/>
<rect x="121" y="30" width="21" height="5.5" fill="#000"/>
<rect x="125" y="31" width="1" height="3.5" fill="#fff"/>
<rect x="129" y="31" width="1" height="3.5" fill="#fff"/>
<rect x="133" y="31" width="1" height="3.5" fill="#fff"/>
<rect x="137" y="31" width="1" height="3.5" fill="#fff"/>
<rect x="120" y="40.5" width="11" height="5" fill="#000"/>
<rect x="124" y="41.5" width="1" height="3" fill="#fff"/>
<rect x="128" y="41.5" width="1" height="3" fill="#fff"/>
<rect x="132" y="40.5" width="11" height="5" fill="#000"/>
<rect x="136" y="41.5" width="1" height="3" fill="#fff"/>
<rect x="140" y="41.5" width="1" height="3" fill="#fff"/>
<rect x="158" y="30" width="11" height="5" fill="#000"/>
<rect x="162" y="31" width="1" height="3" fill="#fff"/>
<rect x="166" y="31" width="1" height="3" fill="#fff"/>
<rect x="153" y="40.5" width="15" height="5" fill="#000"/>
<rect x="157" y="41.5" width="1" height="3" fill="#fff"/>
<rect x="161" y="41.5" width="1" height="3" fill="#fff"/>
<rect x="165" y="41.5" width="1" height="3" fill="#fff"/>
<rect x="188" y="63" width="11" height="5.5" fill="#000"/>
<rect x="192" y="64" width="1" height="3.5" fill="#fff"/>
<rect x="196" y="64" width="1" height="3.5" fill="#fff"/>
<rect x="85" y="97" width="15" height="5.5" fill="#000"/>
<rect x="89" y="98" width="1" height="3.5" fill="#fff"/>
<rect x="93" y="98" width="1" height="3.5" fill="#fff"/>
<rect x="97" y="98" width="1" height="3.5" fill="#fff"/>
<rect x="116" y="100" width="16" height="5.5" fill="#000"/>
<rect x="120" y="101" width="1" height="3.5" fill="#fff"/>
<rect x="124" y="101" width="1" height="3.5" fill="#fff"/>
<rect x="128" y="101" width="1" height="3.5" fill="#fff"/>
<rect x="160" y="100" width="15" height="5.3" fill="#000"/>
<rect x="161.5" y="101.5" width="12" height="2.3" fill="#fff"/>
<rect x="165" y="101.5" width="1" height="2.3" fill="#000"/>
<rect x="53" y="106" width="11" height="5" fill="#000"/>
<rect x="57" y="107" width="1" height="3" fill="#fff"/>
<rect x="61" y="107" width="1" height="3" fill="#fff"/>
<rect x="53" y="113" width="11" height="5.5" fill="#000"/>
<rect x="57" y="114" width="1" height="3.5" fill="#fff"/>
<rect x="61" y="114" width="1" height="3.5" fill="#fff"/>
<rect x="119" y="108" width="11" height="10" fill="#000"/>
<rect x="121" y="112.5" width="7" height="1" fill="#fff"/>
<rect x="122" y="110" width="1" height="6" fill="#fff"/>
<rect x="126" y="110" width="1" height="6" fill="#fff"/>
<rect x="184" y="98" width="16" height="4.7" fill="#000"/>
<rect x="188" y="99" width="1" height="2.7" fill="#fff"/>
<rect x="192" y="99" width="1" height="2.7" fill="#fff"/>
<rect x="196" y="99" width="1" height="2.7" fill="#fff"/>
<rect x="184" y="104" width="11" height="11" fill="#000"/>
<rect x="188" y="105" width="1" height="9" fill="#fff"/>
<rect x="192" y="105" width="1" height="9" fill="#fff"/>
<rect x="184" y="117" width="11" height="5" fill="#000"/>
<rect x="188" y="118" width="1" height="3" fill="#fff"/>
<rect x="192" y="118" width="1" height="3" fill="#fff"/>
<rect x="184" y="123" width="11" height="5" fill="#000"/>
<rect x="188" y="124" width="1" height="3" fill="#fff"/>
<rect x="192" y="124" width="1" height="3" fill="#fff"/>
<rect x="231" y="102" width="11" height="5" fill="#000"/>
<rect x="235" y="103" width="1" height="3" fill="#fff"/>
<rect x="239" y="103" width="1" height="3" fill="#fff"/>
<rect x="231" y="109" width="11" height="4" fill="#000"/>
<rect x="235" y="110" width="1" height="2" fill="#fff"/>
<rect x="239" y="110" width="1" height="2" fill="#fff"/>
<rect x="264" y="99" width="11" height="4.6" fill="#000"/>
<rect x="268" y="100" width="1" height="2.6" fill="#fff"/>
<rect x="272" y="100" width="1" height="2.6" fill="#fff"/>
<rect x="212" y="241" width="16" height="6" fill="#000"/>
<rect x="216" y="242" width="1" height="4" fill="#fff"/>
<rect x="220" y="242" width="1" height="4" fill="#fff"/>
<rect x="224" y="242" width="1" height="4" fill="#fff"/>
<rect x="187" y="253.7" width="6" height="15.9" fill="#000"/>
<rect x="189" y="256.5" width="2.5" height="2" fill="#fff"/>
<rect x="188.5" y="264" width="3.5" height="1" fill="#fff"/>
<rect x="194" y="253.7" width="5.3" height="15.9" fill="#000"/>
<rect x="195.5" y="256.5" width="2.5" height="2" fill="#fff"/>
<rect x="195" y="264" width="3.5" height="1" fill="#fff"/>
<rect x="117" y="259" width="10" height="9.7" fill="#000"/>
<rect x="118.5" y="263" width="7" height="1.2" fill="#fff"/>
<rect x="121.5" y="260.5" width="1.2" height="7" fill="#fff"/>
<rect x="47" y="302" width="6" height="16" fill="#000"/>
<rect x="48" y="303" width="4" height="14" fill="#fff"/>
<rect x="223" y="346" width="5" height="15" fill="#000"/>
<rect x="224" y="347" width="3" height="13" fill="#fff"/>
<rect x="367" y="405" width="21" height="5.6" fill="#000"/>
<rect x="371" y="406" width="1" height="3.6" fill="#fff"/>
<rect x="375" y="406" width="1" height="3.6" fill="#fff"/>
<rect x="379" y="406" width="1" height="3.6" fill="#fff"/>
<rect x="383" y="406" width="1" height="3.6" fill="#fff"/>
<rect x="404" y="405" width="21" height="5.7" fill="#000"/>
<rect x="408" y="406" width="1" height="3.7" fill="#fff"/>
<rect x="412" y="406" width="1" height="3.7" fill="#fff"/>
<rect x="416" y="406" width="1" height="3.7" fill="#fff"/>
<rect x="420" y="406" width="1" height="3.7" fill="#fff"/>
<rect x="448" y="405" width="16" height="5.3" fill="#000"/>
<rect x="449" y="406" width="14" height="3.3" fill="#fff"/>
<rect x="538" y="219.6" width="10" height="3.8" fill="#000"/>
<rect x="539" y="220.6" width="8" height="1.8" fill="#fff"/>
<rect x="538" y="226" width="15" height="4.7" fill="#000"/>
<rect x="542" y="227" width="1" height="2.7" fill="#fff"/>
<rect x="546" y="227" width="1" height="2.7" fill="#fff"/>
<rect x="550" y="227" width="1" height="2.7" fill="#fff"/>
<polygon points="42.5,15 67.5,15 69,16.5 69,26.5 67.5,28 42.5,28 41,26.5 41,16.5" fill="#000"/>
<rect x="42" y="16" width="25" height="10" fill="#fff"/>
<text x="54.5" y="24.7535" font-size="10.3" fill="#000" text-anchor="middle" font-weight="normal" filter="url(#tx)" >J12</text>
<polygon points="29.5,35 55.5,35 57,36.5 57,48.5 55.5,50 29.5,50 28,48.5 28,36.5" fill="#000"/>
<rect x="30" y="37" width="25" height="11" fill="#fff"/>
<text x="42.5" y="45.795" font-size="11" fill="#000" text-anchor="middle" font-weight="normal" filter="url(#tx)" >J11</text>
<polygon points="93.5,4 117.5,4 119,5.5 119,17.5 117.5,19 93.5,19 92,17.5 92,5.5" fill="#000"/>
<rect x="94" y="6" width="23" height="11" fill="#fff"/>
<text x="105.5" y="14.795" font-size="11" fill="#000" text-anchor="middle" font-weight="normal" filter="url(#tx)" >J10</text>
<polygon points="122.5,3 140.5,3 142,4.5 142,15.5 140.5,17 122.5,17 121,15.5 121,4.5" fill="#000"/>
<rect x="123" y="5" width="17" height="10" fill="#fff"/>
<text x="131.5" y="13.295" font-size="11" fill="#000" text-anchor="middle" font-weight="normal" filter="url(#tx)" >J9</text>
<polygon points="147.5,2 178.5,2 180,3.5 180,16 178.5,17.5 147.5,17.5 146,16 146,3.5" fill="#000"/>
<rect x="148" y="4" width="30" height="11.5" fill="#fff"/>
<text x="163" y="13.045" font-size="11" fill="#000" text-anchor="middle" font-weight="normal" filter="url(#tx)" >JP19</text>
<polygon points="175.5,23 203.5,23 205,24.5 205,34.5 203.5,36 175.5,36 174,34.5 174,24.5" fill="#000"/>
<rect x="175" y="24" width="28" height="10" fill="#fff"/>
<text x="189" y="32.7535" font-size="10.3" fill="#000" text-anchor="middle" font-weight="normal" filter="url(#tx)" >JP18</text>
<polygon points="67.5,51 97.5,51 99,52.5 99,64 97.5,65.5 67.5,65.5 66,64 66,52.5" fill="#000"/>
<rect x="68" y="53" width="29" height="10.5" fill="#fff"/>
<text x="82.5" y="61.545" font-size="11" fill="#000" text-anchor="middle" font-weight="normal" filter="url(#tx)" >JP22</text>
<polygon points="112.5,58 136.5,58 138,59.5 138,71 136.5,72.5 112.5,72.5 111,71 111,59.5" fill="#000"/>
<rect x="113" y="60" width="23" height="10.5" fill="#fff"/>
<text x="124.5" y="68.545" font-size="11" fill="#000" text-anchor="middle" font-weight="normal" filter="url(#tx)" >J8A</text>
<polygon points="144.5,51 161.5,51 163,52.5 163,64 161.5,65.5 144.5,65.5 143,64 143,52.5" fill="#000"/>
<rect x="145" y="53" width="16" height="10.5" fill="#fff"/>
<text x="153" y="61.545" font-size="11" fill="#000" text-anchor="middle" font-weight="normal" filter="url(#tx)" >J8</text>
<polygon points="206.5,47 235.5,47 237,48.5 237,57.5 235.5,59 206.5,59 205,57.5 205,48.5" fill="#000"/>
<rect x="206" y="48" width="29" height="9" fill="#fff"/>
<text x="220.5" y="56.2535" font-size="10.3" fill="#000" text-anchor="middle" font-weight="normal" filter="url(#tx)" >JP11</text>
<polygon points="176.5,69.5 205.5,69.5 207,71 207,83 205.5,84.5 176.5,84.5 175,83 175,71" fill="#000"/>
<rect x="177" y="71.5" width="28" height="11" fill="#fff"/>
<text x="191" y="80.295" font-size="11" fill="#000" text-anchor="middle" font-weight="normal" filter="url(#tx)" >JP17</text>
<polygon points="205,89 233,89 234.5,90.5 234.5,99.5 233,101 205,101 203.5,99.5 203.5,90.5" fill="#000"/>
<rect x="204.5" y="90" width="28" height="9" fill="#fff"/>
<text x="218.5" y="98.9535" font-size="10.3" fill="#000" text-anchor="middle" font-weight="normal" filter="url(#tx)" >JP16</text>
<polygon points="261.5,73 281.5,73 283,74.5 283,84.5 281.5,86 261.5,86 260,84.5 260,74.5" fill="#000"/>
<rect x="261" y="74" width="20" height="10" fill="#fff"/>
<text x="271" y="82.7535" font-size="10.3" fill="#000" text-anchor="middle" font-weight="normal" filter="url(#tx)" >JP5</text>
<polygon points="133,79.5 161.5,79.5 163,81 163,92 161.5,93.5 133,93.5 131.5,92 131.5,81" fill="#000"/>
<rect x="133.5" y="81.5" width="27.5" height="10" fill="#fff"/>
<text x="147.25" y="89.795" font-size="11" fill="#000" text-anchor="middle" font-weight="normal" filter="url(#tx)" >JP20</text>
<polygon points="86.5,79 117,79 118.5,80.5 118.5,92.5 117,94 86.5,94 85,92.5 85,80.5" fill="#000"/>
<rect x="87" y="81" width="29.5" height="11" fill="#fff"/>
<text x="101.75" y="89.795" font-size="11" fill="#000" text-anchor="middle" font-weight="normal" filter="url(#tx)" >JP28</text>
<polygon points="48.5,77.5 77.5,77.5 79,79 79,90.5 77.5,92 48.5,92 47,90.5 47,79" fill="#000"/>
<rect x="49" y="79.5" width="28" height="10.5" fill="#fff"/>
<text x="63" y="88.045" font-size="11" fill="#000" text-anchor="middle" font-weight="normal" filter="url(#tx)" >JP24</text>
<polygon points="16,88 45.5,88 47,89.5 47,101 45.5,102.5 16,102.5 14.5,101 14.5,89.5" fill="#000"/>
<rect x="16.5" y="90" width="28.5" height="10.5" fill="#fff"/>
<text x="30.75" y="98.545" font-size="11" fill="#000" text-anchor="middle" font-weight="normal" filter="url(#tx)" >JP27</text>
<polygon points="9.5,108 40,108 41.5,109.5 41.5,121 40,122.5 9.5,122.5 8,121 8,109.5" fill="#000"/>
<rect x="10" y="110" width="29.5" height="10.5" fill="#fff"/>
<text x="24.75" y="118.545" font-size="11" fill="#000" text-anchor="middle" font-weight="normal" filter="url(#tx)" >JP26</text>
<rect x="73.5" y="106" width="33" height="15" rx="4" fill="#000" shape-rendering="auto"/>
<rect x="75.5" y="108" width="29" height="11" rx="2" fill="#fff" shape-rendering="auto"/>
<text x="90" y="116.795" font-size="11" fill="#000" text-anchor="middle" font-weight="normal" filter="url(#tx)" >JP21</text>
<polygon points="148.5,118 176,118 177.5,119.5 177.5,130.5 176,132 148.5,132 147,130.5 147,119.5" fill="#000"/>
<rect x="149" y="120" width="26.5" height="10" fill="#fff"/>
<text x="162.25" y="128.295" font-size="11" fill="#000" text-anchor="middle" font-weight="normal" filter="url(#tx)" >JP15</text>
<polygon points="175.5,144 205,144 206.5,145.5 206.5,154 205,155.5 175.5,155.5 174,154 174,145.5" fill="#000"/>
<rect x="175" y="145" width="29.5" height="8.5" fill="#fff"/>
<text x="189.75" y="153.004" font-size="10.3" fill="#000" text-anchor="middle" font-weight="normal" filter="url(#tx)" >JP13</text>
<polygon points="208.5,136 237.5,136 239,137.5 239,147.5 237.5,149 208.5,149 207,147.5 207,137.5" fill="#000"/>
<rect x="208" y="137" width="29" height="10" fill="#fff"/>
<text x="222.5" y="145.754" font-size="10.3" fill="#000" text-anchor="middle" font-weight="normal" filter="url(#tx)" >JP14</text>
<polygon points="225.5,120.5 248,120.5 249.5,122 249.5,133.5 248,135 225.5,135 224,133.5 224,122" fill="#000"/>
<rect x="226" y="122.5" width="21.5" height="10.5" fill="#fff"/>
<text x="236.75" y="131.045" font-size="11" fill="#000" text-anchor="middle" font-weight="normal" filter="url(#tx)" >JP6</text>
<polygon points="249,109 273.5,109 275,110.5 275,121.5 273.5,123 249,123 247.5,121.5 247.5,110.5" fill="#000"/>
<rect x="249.5" y="111" width="23.5" height="10" fill="#fff"/>
<text x="261.25" y="119.295" font-size="11" fill="#000" text-anchor="middle" font-weight="normal" filter="url(#tx)" >JP7</text>
<polygon points="161.5,235 189.5,235 191,236.5 191,245.5 189.5,247 161.5,247 160,245.5 160,236.5" fill="#000"/>
<rect x="161" y="236" width="28" height="9" fill="#fff"/>
<text x="175" y="244.254" font-size="10.3" fill="#000" text-anchor="middle" font-weight="normal" filter="url(#tx)" >JP10</text>
<rect x="142" y="254" width="34" height="15" rx="3" fill="#000" shape-rendering="auto"/>
<rect x="144" y="256" width="30" height="11" rx="1" fill="#fff" shape-rendering="auto"/>
<text x="159" y="264.795" font-size="11" fill="#000" text-anchor="middle" font-weight="normal" filter="url(#tx)" >JP12</text>
<rect x="72" y="254" width="33" height="15.5" rx="3" fill="#000" shape-rendering="auto"/>
<rect x="74" y="256" width="29" height="11.5" rx="1" fill="#fff" shape-rendering="auto"/>
<text x="88.5" y="265.045" font-size="11" fill="#000" text-anchor="middle" font-weight="normal" filter="url(#tx)" >JP29</text>
<polygon points="241,237 266,237 267.5,238.5 267.5,248.5 266,250 241,250 239.5,248.5 239.5,238.5" fill="#000"/>
<rect x="240.5" y="238" width="25" height="10" fill="#fff"/>
<text x="253" y="246.754" font-size="10.3" fill="#000" text-anchor="middle" font-weight="normal" filter="url(#tx)" >JP9</text>
<polygon points="3.5,303 35.5,303 37,304.5 37,316.5 35.5,318 3.5,318 2,316.5 2,304.5" fill="#000"/>
<rect x="4" y="305" width="31" height="11" fill="#fff"/>
<text x="19.5" y="313.795" font-size="11" fill="#000" text-anchor="middle" font-weight="normal" filter="url(#tx)" >JP25</text>
<polygon points="14,352.5 51,352.5 52.5,354 52.5,365 51,366.5 14,366.5 12.5,365 12.5,354" fill="#000"/>
<rect x="14.5" y="354.5" width="36" height="10" fill="#fff"/>
<rect x="14.5" y="354.5" width="1" height="10" fill="#000"/>
<text x="32.5" y="362.623" font-size="10.5" fill="#000" text-anchor="middle" font-weight="normal" filter="url(#tx)"  transform="translate(32.5 0) scale(0.9 1) translate(-32.5 0)">CACHE</text>
<rect x="182" y="347" width="29" height="14.5" rx="3" fill="#000" shape-rendering="auto"/>
<rect x="184" y="349" width="25" height="10.5" rx="1" fill="#fff" shape-rendering="auto"/>
<text x="196.5" y="357.545" font-size="11" fill="#000" text-anchor="middle" font-weight="normal" filter="url(#tx)" >JP8</text>
<polygon points="330,400.5 355.5,400.5 357,402 357,413 355.5,414.5 330,414.5 328.5,413 328.5,402" fill="#000"/>
<rect x="330.5" y="402.5" width="24.5" height="10" fill="#fff"/>
<text x="342.75" y="410.795" font-size="11" fill="#000" text-anchor="middle" font-weight="normal" filter="url(#tx)" >JP4</text>
<polygon points="384,415.5 408,415.5 409.5,417 409.5,427.5 408,429 384,429 382.5,427.5 382.5,417" fill="#000"/>
<rect x="384.5" y="417.5" width="23" height="9.5" fill="#fff"/>
<text x="396" y="425.545" font-size="11" fill="#000" text-anchor="middle" font-weight="normal" filter="url(#tx)" >JP3</text>
<polygon points="422,415.5 448.5,415.5 450,417 450,427.5 448.5,429 422,429 420.5,427.5 420.5,417" fill="#000"/>
<rect x="422.5" y="417.5" width="25.5" height="9.5" fill="#fff"/>
<text x="435.25" y="425.545" font-size="11" fill="#000" text-anchor="middle" font-weight="normal" filter="url(#tx)" >JP8A</text>
<polygon points="451.5,350.5 469,350.5 470.5,352 470.5,361 469,362.5 451.5,362.5 450,361 450,352" fill="#000"/>
<rect x="451" y="351.5" width="17.5" height="9" fill="#fff"/>
<text x="459.75" y="359.753" font-size="10.3" fill="#000" text-anchor="middle" font-weight="normal" filter="url(#tx)" >J4</text>
<polygon points="438.5,364.5 453.5,364.5 455,366 455,374 453.5,375.5 438.5,375.5 437,374 437,366" fill="#000"/>
<rect x="438" y="365.5" width="15" height="8" fill="#fff"/>
<text x="445.5" y="373.253" font-size="10.3" fill="#000" text-anchor="middle" font-weight="normal" filter="url(#tx)" >J6</text>
<polygon points="438.5,381 453.5,381 455,382.5 455,391 453.5,392.5 438.5,392.5 437,391 437,382.5" fill="#000"/>
<rect x="438" y="382" width="15" height="8.5" fill="#fff"/>
<text x="445.5" y="390.003" font-size="10.3" fill="#000" text-anchor="middle" font-weight="normal" filter="url(#tx)" >J5</text>
<polygon points="511.5,311.5 529.5,311.5 531,313 531,323.5 529.5,325 511.5,325 510,323.5 510,313" fill="#000"/>
<rect x="512" y="313.5" width="17" height="9.5" fill="#fff"/>
<text x="520.5" y="321.545" font-size="11" fill="#000" text-anchor="middle" font-weight="normal" filter="url(#tx)" >J7</text>
<polygon points="541.5,311.5 559,311.5 560.5,313 560.5,323.5 559,325 541.5,325 540,323.5 540,313" fill="#000"/>
<rect x="542" y="313.5" width="16.5" height="9.5" fill="#fff"/>
<text x="550.25" y="321.545" font-size="11" fill="#000" text-anchor="middle" font-weight="normal" filter="url(#tx)" >J2</text>
<polygon points="572.5,297.5 591.5,297.5 593,299 593,310 591.5,311.5 572.5,311.5 571,310 571,299" fill="#000"/>
<rect x="573" y="299.5" width="18" height="10" fill="#fff"/>
<text x="582" y="307.795" font-size="11" fill="#000" text-anchor="middle" font-weight="normal" filter="url(#tx)" >J3</text>
<polygon points="606.5,335.5 624,335.5 625.5,337 625.5,348.5 624,350 606.5,350 605,348.5 605,337" fill="#000"/>
<rect x="607" y="337.5" width="16.5" height="10.5" fill="#fff"/>
<text x="615.25" y="346.045" font-size="11" fill="#000" text-anchor="middle" font-weight="normal" filter="url(#tx)" >J1</text>
<polygon points="557.5,203 580.5,203 582,204.5 582,215 580.5,216.5 557.5,216.5 556,215 556,204.5" fill="#000"/>
<rect x="558" y="205" width="22" height="9.5" fill="#fff"/>
<text x="568" y="213.045" font-size="11" fill="#000" text-anchor="middle" font-weight="normal" filter="url(#tx)" >JP2</text>
<polygon points="566.5,221.5 592.5,221.5 594,223 594,233.5 592.5,235 566.5,235 565,233.5 565,223" fill="#000"/>
<rect x="567" y="223.5" width="25" height="9.5" fill="#fff"/>
<text x="578.5" y="231.545" font-size="11" fill="#000" text-anchor="middle" font-weight="normal" filter="url(#tx)" >JP1</text>
<polygon points="63.206,28.853 67.2418,23.8858 70.8,30.9" fill="#000"/>
<polyline points="70.0239,30.2694 74,33.5" fill="none" stroke="#000" stroke-width="2" stroke-linejoin="miter"/>
<polygon points="63.8899,27.2183 65.7817,24.8899 69.6358,29.9541" fill="#fff"/>
<polygon points="55,45.7 55,39.3 62.5,42.5" fill="#000"/>
<polyline points="61.5,42.5 69,42.5" fill="none" stroke="#000" stroke-width="2" stroke-linejoin="miter"/>
<polygon points="54.5,44 54.5,41 61,42.5" fill="#fff"/>
<polygon points="102.264,17.1237 108.659,16.8778 105.75,24.4952" fill="#000"/>
<polyline points="105.711,23.4959 106,31" fill="none" stroke="#000" stroke-width="2" stroke-linejoin="miter"/>
<polygon points="103.943,16.5588 106.941,16.4435 105.692,22.9963" fill="#fff"/>
<polygon points="128.339,15.3822 134.735,15.6191 131.259,22.9955" fill="#000"/>
<polyline points="131.296,21.9962 131,30" fill="none" stroke="#000" stroke-width="2" stroke-linejoin="miter"/>
<polygon points="130.057,14.9455 133.054,15.0565 131.315,21.4966" fill="#fff"/>
<polygon points="159.8,16 166.2,16 163,23.5" fill="#000"/>
<polyline points="163,22.5 163,30" fill="none" stroke="#000" stroke-width="2" stroke-linejoin="miter"/>
<polygon points="161.5,15.5 164.5,15.5 163,22" fill="#fff"/>
<polygon points="174.444,32.0302 178.97,36.5556 171.404,39.5962" fill="#000"/>
<polyline points="172.111,38.8891 168,43" fill="none" stroke="#000" stroke-width="2" stroke-linejoin="miter"/>
<polygon points="176,32.8787 178.121,35 172.464,38.5355" fill="#fff"/>
<polygon points="98.1753,55.1399 94.246,50.088 102.131,48.0094" fill="#000"/>
<polyline points="101.341,48.6233 106,45" fill="none" stroke="#000" stroke-width="2" stroke-linejoin="miter"/>
<polygon points="96.7369,54.1049 94.8951,51.7369 100.947,48.9303" fill="#fff"/>
<polygon points="128.2,59.5 121.8,59.5 125,52" fill="#000"/>
<polyline points="125,53 125,45.5" fill="none" stroke="#000" stroke-width="2" stroke-linejoin="miter"/>
<polygon points="126.5,60 123.5,60 125,53.5" fill="#fff"/>
<polygon points="148.794,50.147 144.758,55.1142 141.2,48.1" fill="#000"/>
<polyline points="141.976,48.7306 138,45.5" fill="none" stroke="#000" stroke-width="2" stroke-linejoin="miter"/>
<polygon points="148.11,51.7817 146.218,54.1101 142.364,49.0459" fill="#fff"/>
<polygon points="206.825,54.8601 210.754,59.912 202.869,61.9906" fill="#000"/>
<polyline points="203.659,61.3767 199,65" fill="none" stroke="#000" stroke-width="2" stroke-linejoin="miter"/>
<polygon points="208.263,55.8951 210.105,58.2631 204.053,61.0697" fill="#fff"/>
<polygon points="187.879,82.7746 194.263,83.2305 190.537,90.4835" fill="#000"/>
<polyline points="190.608,89.486 190,98" fill="none" stroke="#000" stroke-width="2" stroke-linejoin="miter"/>
<polygon points="189.611,82.3969 192.603,82.6107 190.644,88.9873" fill="#fff"/>
<polygon points="204.211,96.7415 207.504,102.229 199.426,103.344" fill="#000"/>
<polyline points="200.284,102.83 195,106" fill="none" stroke="#000" stroke-width="2" stroke-linejoin="miter"/>
<polygon points="205.514,97.942 207.058,100.514 200.713,102.572" fill="#fff"/>
<polygon points="268.43,84.1527 274.791,84.8595 270.782,91.9602" fill="#000"/>
<polyline points="270.893,90.9664 270,99" fill="none" stroke="#000" stroke-width="2" stroke-linejoin="miter"/>
<polygon points="270.175,83.8435 273.156,84.1748 270.948,90.4694" fill="#fff"/>
<polygon points="156.92,94.3233 161.779,90.1582 163.6,97.2" fill="#000"/>
<polyline points="162.949,96.4407 166,100" fill="none" stroke="#000" stroke-width="2" stroke-linejoin="miter"/>
<polygon points="157.885,92.8373 160.163,90.8849 162.624,96.0611" fill="#fff"/>
<polygon points="112.03,94.5556 116.556,90.0302 119.2,97.2" fill="#000"/>
<polyline points="118.493,96.4929 122,100" fill="none" stroke="#000" stroke-width="2" stroke-linejoin="miter"/>
<polygon points="112.879,93 115,90.8787 118.139,96.1393" fill="#fff"/>
<polygon points="73.2201,92.8741 77.2182,87.8765 81.0756,95.0605" fill="#000"/>
<polyline points="80.2948,94.4358 86,99" fill="none" stroke="#000" stroke-width="2" stroke-linejoin="miter"/>
<polygon points="73.8917,91.2343 75.7657,88.8917 79.9043,94.1235" fill="#fff"/>
<polygon points="43.0302,101.556 47.5556,97.0302 50.5962,104.596" fill="#000"/>
<polyline points="49.8891,103.889 54,108" fill="none" stroke="#000" stroke-width="2" stroke-linejoin="miter"/>
<polygon points="43.8787,100 46,97.8787 49.5355,103.536" fill="#fff"/>
<polygon points="40,118.7 40,112.3 47.5,115.5" fill="#000"/>
<polyline points="46.5,115.5 53,115.5" fill="none" stroke="#000" stroke-width="2" stroke-linejoin="miter"/>
<polygon points="39.5,117 39.5,114 46,115.5" fill="#fff"/>
<polygon points="105,116.7 105,110.3 112.5,113.5" fill="#000"/>
<polyline points="111.5,113.5 119,113.5" fill="none" stroke="#000" stroke-width="2" stroke-linejoin="miter"/>
<polygon points="104.5,115 104.5,112 111,113.5" fill="#fff"/>
<polygon points="177.727,121.873 172.944,117.621 180.318,114.142" fill="#000"/>
<polyline points="179.654,114.889 184,110" fill="none" stroke="#000" stroke-width="2" stroke-linejoin="miter"/>
<polygon points="176.125,121.118 173.882,119.125 179.322,115.263" fill="#fff"/>
<polygon points="193.2,145.5 186.8,145.5 190,138" fill="#000"/>
<polyline points="190,139 190,128" fill="none" stroke="#000" stroke-width="2" stroke-linejoin="miter"/>
<polygon points="191.5,146 188.5,146 190,139.5" fill="#fff"/>
<polygon points="212.106,135.738 207.166,139.806 204.868,131.982" fill="#000"/>
<polyline points="205.504,132.754 195,120" fill="none" stroke="#000" stroke-width="2" stroke-linejoin="miter"/>
<polygon points="211.111,137.204 208.796,139.111 205.821,133.14" fill="#fff"/>
<polygon points="239.2,122 232.8,122 236,116.2" fill="#000"/>
<polyline points="236,117.2 236,113" fill="none" stroke="#000" stroke-width="2" stroke-linejoin="miter"/>
<polygon points="237.5,122.5 234.5,122.5 236,117.7" fill="#fff"/>
<polygon points="251.614,110.758 246.647,114.794 244.6,107.2" fill="#000"/>
<polyline points="245.231,107.976 242,104" fill="none" stroke="#000" stroke-width="2" stroke-linejoin="miter"/>
<polygon points="250.61,112.218 248.282,114.11 245.546,108.364" fill="#fff"/>
<polygon points="185.84,247.12 190.96,243.28 192.6,250.8" fill="#000"/>
<polyline points="192,250 195,254" fill="none" stroke="#000" stroke-width="2" stroke-linejoin="miter"/>
<polygon points="186.9,245.7 189.3,243.9 191.7,249.6" fill="#fff"/>
<polygon points="174.5,264.7 174.5,258.3 182,261.5" fill="#000"/>
<polyline points="181,261.5 187,261.5" fill="none" stroke="#000" stroke-width="2" stroke-linejoin="miter"/>
<polygon points="174,263 174,260 180.5,261.5" fill="#fff"/>
<polygon points="101.176,265.08 101.835,258.714 108.965,262.669" fill="#000"/>
<polyline points="107.971,262.566 117,263.5" fill="none" stroke="#000" stroke-width="2" stroke-linejoin="miter"/>
<polygon points="100.854,263.338 101.162,260.354 107.473,262.514" fill="#fff"/>
<polygon points="240.866,240.261 241.132,246.656 233.506,243.771" fill="#000"/>
<polyline points="234.505,243.729 228,244" fill="none" stroke="#000" stroke-width="2" stroke-linejoin="miter"/>
<polygon points="241.436,241.939 241.561,244.936 235.004,243.708" fill="#fff"/>
<polygon points="35.6533,313.744 35.3489,307.351 42.8,310.2" fill="#000"/>
<polyline points="41.8011,310.248 47,310" fill="none" stroke="#000" stroke-width="2" stroke-linejoin="miter"/>
<polygon points="35.073,312.07 34.9304,309.073 41.3017,310.271" fill="#fff"/>
<polygon points="209.629,357.237 209.373,350.843 216.995,353.74" fill="#000"/>
<polyline points="215.996,353.78 223,353.5" fill="none" stroke="#000" stroke-width="2" stroke-linejoin="miter"/>
<polygon points="209.061,355.559 208.941,352.561 215.496,353.8" fill="#fff"/>
<polyline points="57.5,353 51.5,359.5 57.5,366" fill="none" stroke="#000" stroke-width="1" stroke-linejoin="miter"/>
<polygon points="355.5,410.7 355.5,404.3 362.8,407.5" fill="#000"/>
<polyline points="361.8,407.5 367,407.5" fill="none" stroke="#000" stroke-width="2" stroke-linejoin="miter"/>
<polygon points="355,409 355,406 361.3,407.5" fill="#fff"/>
<polygon points="407.989,419.203 404.363,413.93 411.8,412.7" fill="#000"/>
<polyline points="410.976,413.267 415,410.5" fill="none" stroke="#000" stroke-width="2" stroke-linejoin="miter"/>
<polygon points="406.614,418.086 404.914,415.614 410.564,413.55" fill="#fff"/>
<polygon points="447.943,419.217 444.393,413.892 452.4,412.4" fill="#000"/>
<polyline points="451.568,412.955 456,410" fill="none" stroke="#000" stroke-width="2" stroke-linejoin="miter"/>
<polygon points="446.584,418.08 444.92,415.584 451.152,413.232" fill="#fff"/>
<polygon points="469,359.7 469,353.3 476.5,356.5" fill="#000"/>
<polyline points="475.5,356.5 481,356.5" fill="none" stroke="#000" stroke-width="2" stroke-linejoin="miter"/>
<polygon points="468.5,358 468.5,355 475,356.5" fill="#fff"/>
<polygon points="453.748,373.11 454.258,366.73 461.479,370.518" fill="#000"/>
<polyline points="460.482,370.439 467.5,371" fill="none" stroke="#000" stroke-width="2" stroke-linejoin="miter"/>
<polygon points="453.385,371.376 453.624,368.385 459.984,370.399" fill="#fff"/>
<polygon points="454,389.7 454,383.3 461.5,386.5" fill="#000"/>
<polyline points="460.5,386.5 467.5,386.5" fill="none" stroke="#000" stroke-width="2" stroke-linejoin="miter"/>
<polygon points="453.5,388 453.5,385 460,386.5" fill="#fff"/>
<polygon points="517.386,323.758 523.767,324.248 520.001,331.481" fill="#000"/>
<polyline points="520.078,330.484 519.5,338" fill="none" stroke="#000" stroke-width="2" stroke-linejoin="miter"/>
<polygon points="519.119,323.389 522.111,323.619 520.117,329.985" fill="#fff"/>
<polygon points="546.8,324 553.2,324 550,331.5" fill="#000"/>
<polyline points="550,330.5 550,338" fill="none" stroke="#000" stroke-width="2" stroke-linejoin="miter"/>
<polygon points="548.5,323.5 551.5,323.5 550,330" fill="#fff"/>
<polygon points="572,301.3 572,307.7 564.5,304.5" fill="#000"/>
<polyline points="565.5,304.5 560,304.5" fill="none" stroke="#000" stroke-width="2" stroke-linejoin="miter"/>
<polygon points="572.5,303 572.5,306 566,304.5" fill="#fff"/>
<polygon points="606,339.3 606,345.7 598.5,342.5" fill="#000"/>
<polyline points="599.5,342.5 594,342.5" fill="none" stroke="#000" stroke-width="2" stroke-linejoin="miter"/>
<polygon points="606.5,341 606.5,344 600,342.5" fill="#fff"/>
<polygon points="555.937,211.82 559.684,217.009 551.731,218.806" fill="#000"/>
<polyline points="552.541,218.22 548,221.5" fill="none" stroke="#000" stroke-width="2" stroke-linejoin="miter"/>
<polygon points="557.338,212.906 559.094,215.338 552.947,217.927" fill="#fff"/>
<polygon points="566,224.8 566,231.2 558.5,228" fill="#000"/>
<polyline points="559.5,228 553,228" fill="none" stroke="#000" stroke-width="2" stroke-linejoin="miter"/>
<polygon points="566.5,226.5 566.5,229.5 560,228" fill="#fff"/>
<polyline points="40,12.5 92,12.5" fill="none" stroke="#000" stroke-width="1" stroke-linejoin="miter"/>
</g>
</svg>
</body></html>
